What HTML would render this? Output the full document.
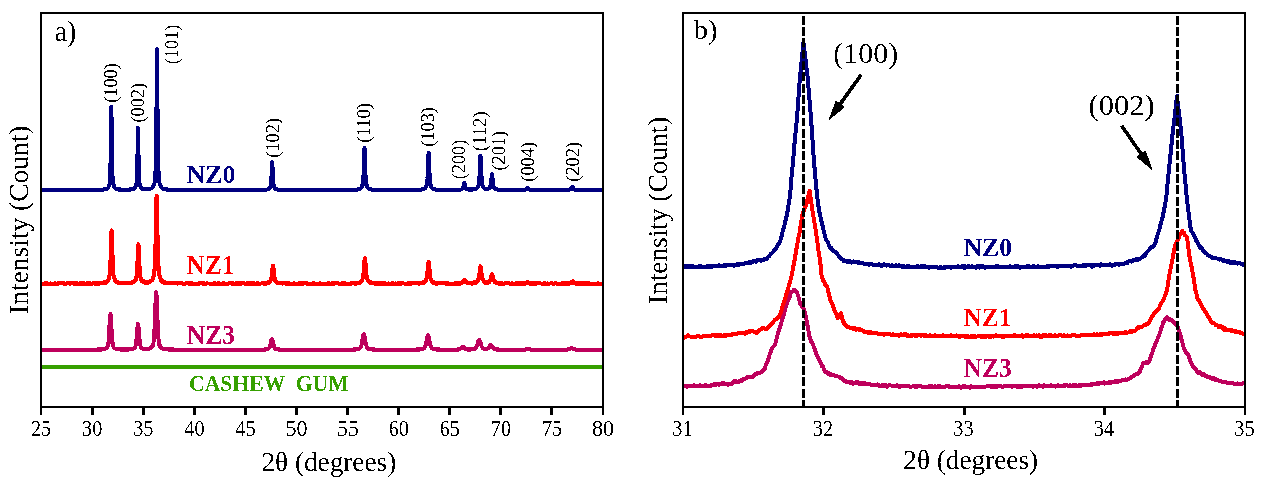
<!DOCTYPE html>
<html><head><meta charset="utf-8"><title>XRD</title>
<style>html,body{margin:0;padding:0;background:#fff;width:1262px;height:484px;overflow:hidden}svg{display:block}text{font-family:"Liberation Serif",serif}</style>
</head><body>
<svg width="1262" height="484" viewBox="0 0 1262 484">
<defs><filter id="crisp" filterUnits="userSpaceOnUse" x="0" y="0" width="1262" height="484" color-interpolation-filters="sRGB"><feComponentTransfer><feFuncA type="discrete" tableValues="0 1"/></feComponentTransfer></filter></defs>
<rect width="1262" height="484" fill="#fff"/>
<g filter="url(#crisp)">
<g clip-path="url(#cl)">
<polyline fill="none" stroke="#36A000" stroke-width="4" stroke-linejoin="round" stroke-linecap="butt" points="42.00,367.19 44.00,366.90 46.00,367.06 48.00,366.87 50.00,366.90 52.00,366.91 54.00,366.98 56.00,367.02 58.00,367.07 60.00,366.78 62.00,367.30 64.00,367.18 66.00,367.11 68.00,366.95 70.00,366.99 72.00,367.08 74.00,367.06 76.00,366.74 78.00,367.11 80.00,367.45 82.00,366.72 84.00,367.15 86.00,367.06 88.00,366.98 90.00,367.21 92.00,366.82 94.00,367.03 96.00,367.23 98.00,366.97 100.00,366.94 102.00,367.02 104.00,366.93 106.00,367.24 108.00,366.86 110.00,367.13 112.00,366.81 114.00,367.10 116.00,366.98 118.00,366.60 120.00,367.00 122.00,366.84 124.00,366.93 126.00,367.24 128.00,366.83 130.00,366.84 132.00,367.22 134.00,367.02 136.00,367.24 138.00,367.05 140.00,366.86 142.00,366.99 144.00,367.19 146.00,367.15 148.00,367.00 150.00,367.01 152.00,366.98 154.00,366.91 156.00,367.30 158.00,367.00 160.00,366.83 162.00,366.93 164.00,367.11 166.00,367.10 168.00,366.98 170.00,366.90 172.00,367.00 174.00,366.74 176.00,366.80 178.00,367.12 180.00,366.93 182.00,367.06 184.00,367.19 186.00,367.10 188.00,367.00 190.00,367.33 192.00,367.10 194.00,366.95 196.00,367.11 198.00,367.06 200.00,366.87 202.00,367.01 204.00,366.97 206.00,366.70 208.00,366.97 210.00,366.96 212.00,366.93 214.00,366.75 216.00,366.95 218.00,366.99 220.00,367.02 222.00,366.82 224.00,367.10 226.00,366.81 228.00,366.97 230.00,367.20 232.00,366.89 234.00,366.92 236.00,367.17 238.00,366.94 240.00,366.95 242.00,367.03 244.00,367.16 246.00,366.66 248.00,366.87 250.00,366.84 252.00,366.83 254.00,366.87 256.00,366.87 258.00,367.05 260.00,366.86 262.00,367.02 264.00,367.06 266.00,366.89 268.00,367.02 270.00,367.25 272.00,367.05 274.00,366.90 276.00,366.99 278.00,366.86 280.00,367.04 282.00,367.13 284.00,366.87 286.00,366.97 288.00,367.17 290.00,366.92 292.00,367.03 294.00,366.84 296.00,366.87 298.00,366.92 300.00,367.33 302.00,366.94 304.00,366.92 306.00,366.92 308.00,366.98 310.00,367.10 312.00,367.03 314.00,367.31 316.00,367.03 318.00,367.22 320.00,367.04 322.00,367.09 324.00,366.78 326.00,366.98 328.00,366.99 330.00,366.96 332.00,366.68 334.00,367.13 336.00,366.94 338.00,366.93 340.00,366.96 342.00,366.97 344.00,367.06 346.00,366.81 348.00,366.86 350.00,367.04 352.00,367.02 354.00,366.94 356.00,366.91 358.00,366.87 360.00,366.99 362.00,367.18 364.00,366.84 366.00,367.23 368.00,367.13 370.00,366.93 372.00,367.12 374.00,366.78 376.00,366.74 378.00,366.81 380.00,366.94 382.00,366.95 384.00,366.92 386.00,367.01 388.00,366.68 390.00,367.07 392.00,366.79 394.00,366.90 396.00,366.94 398.00,366.83 400.00,366.79 402.00,366.85 404.00,367.00 406.00,367.09 408.00,367.08 410.00,366.85 412.00,366.88 414.00,366.86 416.00,367.07 418.00,366.69 420.00,367.19 422.00,366.93 424.00,366.88 426.00,367.05 428.00,367.15 430.00,367.05 432.00,367.16 434.00,367.02 436.00,367.18 438.00,367.19 440.00,366.99 442.00,367.22 444.00,367.02 446.00,367.01 448.00,366.86 450.00,366.96 452.00,367.12 454.00,366.80 456.00,367.10 458.00,367.05 460.00,367.04 462.00,366.67 464.00,366.98 466.00,367.10 468.00,366.89 470.00,367.01 472.00,366.64 474.00,367.10 476.00,366.90 478.00,367.13 480.00,366.72 482.00,367.10 484.00,366.96 486.00,367.12 488.00,366.86 490.00,366.91 492.00,367.34 494.00,366.88 496.00,366.89 498.00,366.96 500.00,366.85 502.00,367.18 504.00,367.26 506.00,366.89 508.00,366.74 510.00,367.18 512.00,367.17 514.00,367.12 516.00,367.17 518.00,366.87 520.00,366.97 522.00,366.79 524.00,366.79 526.00,367.15 528.00,366.90 530.00,367.34 532.00,367.01 534.00,366.90 536.00,367.12 538.00,367.27 540.00,367.07 542.00,366.82 544.00,367.06 546.00,367.21 548.00,366.93 550.00,366.88 552.00,367.15 554.00,367.02 556.00,366.83 558.00,366.94 560.00,366.89 562.00,367.04 564.00,367.02 566.00,367.17 568.00,367.11 570.00,366.77 572.00,367.06 574.00,367.13 576.00,367.07 578.00,367.15 580.00,366.92 582.00,366.86 584.00,367.14 586.00,366.84 588.00,366.68 590.00,367.15 592.00,366.89 594.00,366.95 596.00,366.79 598.00,366.80 600.00,366.83 602.00,366.95"/>
<polyline fill="none" stroke="#BE005C" stroke-width="4" stroke-linejoin="round" stroke-linecap="butt" points="42.00,349.79 43.00,349.79 44.00,349.79 45.00,349.79 46.00,349.79 47.00,349.79 48.00,349.78 49.00,349.78 50.00,349.78 51.00,349.78 52.00,349.78 53.00,349.78 54.00,349.78 55.00,349.78 56.00,349.78 57.00,349.78 58.00,349.78 59.00,349.78 60.00,349.78 61.00,349.78 62.00,349.78 63.00,349.78 64.00,349.78 65.00,349.78 66.00,349.77 67.00,349.77 68.00,349.77 69.00,349.77 70.00,349.77 71.00,349.77 72.00,349.77 73.00,349.77 74.00,349.77 75.00,349.76 76.00,349.76 77.00,349.76 78.00,349.76 79.00,349.76 80.00,349.75 81.00,349.75 82.00,349.75 83.00,349.75 84.00,349.74 85.00,349.74 86.00,349.73 87.00,349.73 88.00,349.72 89.00,349.72 90.00,349.71 91.00,349.70 92.00,349.69 93.00,349.68 94.00,349.67 95.00,349.66 96.00,349.64 97.00,349.62 98.00,349.59 99.00,349.56 100.00,349.51 100.40,349.49 100.60,349.48 100.80,349.47 101.00,349.46 101.20,349.44 101.40,349.43 101.60,349.41 101.80,349.40 102.00,349.38 102.20,349.36 102.40,349.34 102.60,349.32 102.80,349.29 103.00,349.27 103.20,349.24 103.40,349.21 103.60,349.18 103.80,349.14 104.00,349.11 104.20,349.06 104.40,349.02 104.60,348.97 104.80,348.91 105.00,348.85 105.20,348.79 105.40,348.71 105.60,348.63 105.80,348.53 106.00,348.42 106.20,348.30 106.40,348.16 106.60,347.99 106.80,347.78 107.00,347.53 107.20,347.21 107.40,346.79 107.60,346.24 107.80,345.52 108.00,344.57 108.20,343.32 108.40,341.73 108.60,339.72 108.80,337.27 109.00,334.37 109.20,331.06 109.40,327.43 109.60,323.66 109.80,320.03 110.00,316.93 110.20,314.81 110.40,314.05 110.60,314.81 110.80,316.93 111.00,320.03 111.20,323.66 111.40,327.42 111.60,331.05 111.80,334.36 112.00,337.26 112.20,339.71 112.40,341.71 112.60,343.31 112.80,344.55 113.00,345.50 113.20,346.23 113.40,346.77 113.60,347.19 113.80,347.51 114.00,347.76 114.20,347.96 114.40,348.13 114.60,348.27 114.80,348.39 115.00,348.50 115.20,348.59 115.40,348.68 115.60,348.75 115.80,348.82 116.00,348.88 116.20,348.93 116.40,348.98 116.60,349.02 116.80,349.06 117.00,349.10 117.20,349.13 117.40,349.16 117.60,349.19 117.80,349.22 118.00,349.24 118.20,349.26 118.40,349.28 118.60,349.30 118.80,349.32 119.00,349.33 119.20,349.35 119.40,349.36 119.60,349.37 119.80,349.38 120.00,349.40 120.20,349.41 121.00,349.44 122.00,349.47 123.00,349.48 124.00,349.49 125.00,349.49 126.00,349.48 127.00,349.46 128.00,349.43 128.20,349.42 128.40,349.41 128.60,349.41 128.80,349.40 129.00,349.39 129.20,349.37 129.40,349.36 129.60,349.35 129.80,349.34 130.00,349.32 130.20,349.30 130.40,349.29 130.60,349.27 130.80,349.25 131.00,349.22 131.20,349.20 131.40,349.17 131.60,349.14 131.80,349.11 132.00,349.07 132.20,349.03 132.40,348.99 132.60,348.94 132.80,348.89 133.00,348.83 133.20,348.77 133.40,348.69 133.60,348.61 133.80,348.51 134.00,348.39 134.20,348.26 134.40,348.09 134.60,347.88 134.80,347.62 135.00,347.28 135.20,346.83 135.40,346.25 135.60,345.49 135.80,344.52 136.00,343.30 136.20,341.79 136.40,339.98 136.60,337.88 136.80,335.51 137.00,332.96 137.20,330.34 137.40,327.85 137.60,325.75 137.80,324.32 138.00,323.81 138.20,324.31 138.40,325.74 138.60,327.84 138.80,330.32 139.00,332.93 139.20,335.48 139.40,337.84 139.60,339.94 139.80,341.74 140.00,343.24 140.20,344.46 140.40,345.42 140.60,346.17 140.80,346.75 141.00,347.19 141.20,347.52 141.40,347.78 141.60,347.98 141.80,348.14 142.00,348.27 142.20,348.37 142.40,348.46 142.60,348.54 142.80,348.61 143.00,348.66 143.20,348.71 143.40,348.76 143.60,348.79 143.80,348.83 144.00,348.85 144.20,348.88 144.40,348.90 144.60,348.92 144.80,348.93 145.00,348.94 145.20,348.95 145.40,348.96 145.60,348.96 145.80,348.96 146.00,348.96 146.20,348.96 146.40,348.95 146.60,348.94 146.80,348.93 147.00,348.92 147.20,348.91 147.40,348.89 147.60,348.87 147.80,348.85 148.00,348.82 148.20,348.79 148.40,348.76 148.60,348.73 148.80,348.69 149.00,348.64 149.20,348.60 149.40,348.55 149.60,348.49 149.80,348.42 150.00,348.36 150.20,348.28 150.40,348.19 150.60,348.10 150.80,347.99 151.00,347.87 151.20,347.74 151.40,347.59 151.60,347.42 151.80,347.23 152.00,347.00 152.20,346.73 152.40,346.41 152.60,346.02 152.80,345.52 153.00,344.88 153.20,344.06 153.40,343.00 153.60,341.62 153.80,339.84 154.00,337.57 154.20,334.75 154.40,331.32 154.60,327.24 154.80,322.54 155.00,317.31 155.20,311.71 155.40,306.02 155.60,300.65 155.80,296.14 156.00,293.10 156.20,292.02 156.40,293.10 156.60,296.15 156.80,300.66 157.00,306.03 157.20,311.72 157.40,317.33 157.60,322.57 157.80,327.27 158.00,331.35 158.20,334.79 158.40,337.61 158.60,339.87 158.80,341.66 159.00,343.04 159.20,344.11 159.40,344.94 159.60,345.57 159.80,346.08 160.00,346.47 160.20,346.80 160.40,347.07 160.60,347.30 160.80,347.50 161.00,347.67 161.20,347.83 161.40,347.97 161.60,348.09 161.80,348.20 162.00,348.30 162.20,348.39 162.40,348.48 162.60,348.55 162.80,348.62 163.00,348.68 163.20,348.74 163.40,348.80 163.60,348.85 163.80,348.89 164.00,348.94 164.20,348.98 164.40,349.01 164.60,349.05 164.80,349.08 165.00,349.11 165.20,349.14 165.40,349.17 165.60,349.19 165.80,349.21 166.00,349.24 167.00,349.33 168.00,349.40 169.00,349.46 170.00,349.50 171.00,349.54 172.00,349.57 173.00,349.59 174.00,349.61 175.00,349.63 176.00,349.65 177.00,349.66 178.00,349.67 179.00,349.68 180.00,349.69 181.00,349.70 182.00,349.70 183.00,349.71 184.00,349.72 185.00,349.72 186.00,349.72 187.00,349.73 188.00,349.73 189.00,349.74 190.00,349.74 191.00,349.74 192.00,349.74 193.00,349.75 194.00,349.75 195.00,349.75 196.00,349.75 197.00,349.76 198.00,349.76 199.00,349.76 200.00,349.76 201.00,349.76 202.00,349.76 203.00,349.76 204.00,349.76 205.00,349.77 206.00,349.77 207.00,349.77 208.00,349.77 209.00,349.77 210.00,349.77 211.00,349.77 212.00,349.77 213.00,349.77 214.00,349.77 215.00,349.77 216.00,349.77 217.00,349.77 218.00,349.77 219.00,349.77 220.00,349.77 221.00,349.78 222.00,349.78 223.00,349.78 224.00,349.78 225.00,349.78 226.00,349.78 227.00,349.78 228.00,349.78 229.00,349.78 230.00,349.78 231.00,349.78 232.00,349.78 233.00,349.78 234.00,349.78 235.00,349.78 236.00,349.78 237.00,349.77 238.00,349.77 239.00,349.77 240.00,349.77 241.00,349.77 242.00,349.77 243.00,349.77 244.00,349.77 245.00,349.77 246.00,349.77 247.00,349.77 248.00,349.77 249.00,349.76 250.00,349.76 251.00,349.76 252.00,349.76 253.00,349.75 254.00,349.75 255.00,349.74 256.00,349.74 257.00,349.73 258.00,349.72 259.00,349.71 260.00,349.70 261.00,349.68 261.90,349.66 262.00,349.66 262.10,349.66 262.30,349.65 262.50,349.65 262.70,349.64 262.90,349.64 263.00,349.63 263.10,349.63 263.30,349.62 263.50,349.61 263.70,349.61 263.90,349.60 264.00,349.59 264.10,349.59 264.30,349.58 264.50,349.56 264.70,349.55 264.90,349.54 265.00,349.53 265.10,349.53 265.30,349.51 265.50,349.49 265.70,349.48 265.90,349.46 266.00,349.44 266.10,349.43 266.30,349.41 266.50,349.38 266.70,349.35 266.90,349.32 267.00,349.30 267.10,349.28 267.30,349.23 267.50,349.18 267.70,349.12 267.90,349.04 268.00,349.00 268.10,348.95 268.30,348.83 268.50,348.68 268.70,348.50 268.90,348.27 269.00,348.13 269.10,347.98 269.30,347.63 269.50,347.21 269.70,346.70 269.90,346.11 270.00,345.77 270.10,345.42 270.30,344.65 270.50,343.81 270.70,342.92 270.90,342.01 271.00,341.56 271.10,341.12 271.30,340.32 271.50,339.67 271.70,339.24 271.90,339.09 272.00,339.13 272.10,339.24 272.30,339.67 272.50,340.32 272.70,341.12 272.90,342.01 273.00,342.47 273.10,342.92 273.30,343.81 273.50,344.65 273.70,345.42 273.90,346.11 274.00,346.41 274.10,346.70 274.30,347.21 274.50,347.63 274.70,347.98 274.90,348.27 275.00,348.39 275.10,348.50 275.30,348.68 275.50,348.83 275.70,348.95 275.90,349.04 276.00,349.08 276.10,349.12 276.30,349.18 276.50,349.23 276.70,349.28 276.90,349.32 277.00,349.34 277.10,349.35 277.30,349.38 277.50,349.41 277.70,349.43 277.90,349.46 278.00,349.47 278.10,349.48 278.30,349.49 278.50,349.51 278.70,349.53 278.90,349.54 279.00,349.55 279.10,349.55 279.30,349.57 279.50,349.58 279.70,349.59 279.90,349.60 280.00,349.60 280.10,349.61 280.30,349.61 280.50,349.62 280.70,349.63 280.90,349.64 281.00,349.64 281.10,349.64 281.30,349.65 281.50,349.65 281.70,349.66 282.00,349.67 283.00,349.69 284.00,349.70 285.00,349.72 286.00,349.73 287.00,349.73 288.00,349.74 289.00,349.75 290.00,349.75 291.00,349.75 292.00,349.76 293.00,349.76 294.00,349.76 295.00,349.76 296.00,349.77 297.00,349.77 298.00,349.77 299.00,349.77 300.00,349.77 301.00,349.77 302.00,349.77 303.00,349.77 304.00,349.77 305.00,349.78 306.00,349.78 307.00,349.78 308.00,349.78 309.00,349.78 310.00,349.78 311.00,349.78 312.00,349.78 313.00,349.78 314.00,349.78 315.00,349.78 316.00,349.78 317.00,349.78 318.00,349.78 319.00,349.78 320.00,349.78 321.00,349.78 322.00,349.77 323.00,349.77 324.00,349.77 325.00,349.77 326.00,349.77 327.00,349.77 328.00,349.77 329.00,349.77 330.00,349.77 331.00,349.77 332.00,349.77 333.00,349.76 334.00,349.76 335.00,349.76 336.00,349.76 337.00,349.76 338.00,349.75 339.00,349.75 340.00,349.75 341.00,349.75 342.00,349.74 343.00,349.74 344.00,349.73 345.00,349.72 346.00,349.72 347.00,349.71 348.00,349.70 349.00,349.68 350.00,349.67 351.00,349.65 352.00,349.63 353.00,349.59 353.80,349.56 354.00,349.55 354.20,349.54 354.40,349.53 354.60,349.52 354.80,349.51 355.00,349.50 355.20,349.49 355.40,349.47 355.60,349.46 355.80,349.44 356.00,349.42 356.20,349.41 356.40,349.39 356.60,349.36 356.80,349.34 357.00,349.32 357.20,349.29 357.40,349.26 357.60,349.23 357.80,349.19 358.00,349.15 358.20,349.10 358.40,349.05 358.60,349.00 358.80,348.93 359.00,348.86 359.20,348.77 359.40,348.66 359.60,348.53 359.80,348.38 360.00,348.18 360.20,347.95 360.40,347.66 360.60,347.31 360.80,346.89 361.00,346.38 361.20,345.78 361.40,345.07 361.60,344.27 361.80,343.35 362.00,342.34 362.20,341.23 362.40,340.06 362.60,338.85 362.80,337.64 363.00,336.50 363.20,335.49 363.40,334.69 363.60,334.17 363.80,333.99 364.00,334.17 364.20,334.69 364.40,335.49 364.60,336.50 364.80,337.64 365.00,338.85 365.20,340.06 365.40,341.23 365.60,342.34 365.80,343.35 366.00,344.26 366.20,345.07 366.40,345.78 366.60,346.38 366.80,346.89 367.00,347.31 367.20,347.66 367.40,347.95 367.60,348.18 367.80,348.37 368.00,348.53 368.20,348.66 368.40,348.77 368.60,348.86 368.80,348.93 369.00,349.00 369.20,349.05 369.40,349.10 369.60,349.15 369.80,349.19 370.00,349.22 370.20,349.26 370.40,349.29 370.60,349.31 370.80,349.34 371.00,349.36 371.20,349.38 371.40,349.40 371.60,349.42 371.80,349.44 372.00,349.45 372.20,349.47 372.40,349.48 372.60,349.50 372.80,349.51 373.00,349.52 373.20,349.53 373.40,349.54 373.60,349.55 374.00,349.57 375.00,349.60 376.00,349.63 377.00,349.65 378.00,349.67 379.00,349.68 380.00,349.70 381.00,349.70 382.00,349.71 383.00,349.72 384.00,349.72 385.00,349.73 386.00,349.73 387.00,349.74 388.00,349.74 389.00,349.74 390.00,349.74 391.00,349.74 392.00,349.75 393.00,349.75 394.00,349.75 395.00,349.75 396.00,349.75 397.00,349.75 398.00,349.75 399.00,349.74 400.00,349.74 401.00,349.74 402.00,349.74 403.00,349.74 404.00,349.74 405.00,349.73 406.00,349.73 407.00,349.72 408.00,349.72 409.00,349.71 410.00,349.71 411.00,349.70 412.00,349.69 413.00,349.67 414.00,349.66 415.00,349.64 416.00,349.62 417.00,349.58 418.00,349.54 418.20,349.54 418.40,349.53 418.60,349.51 418.80,349.50 419.00,349.49 419.20,349.48 419.40,349.46 419.60,349.45 419.80,349.43 420.00,349.42 420.20,349.40 420.40,349.38 420.60,349.36 420.80,349.34 421.00,349.31 421.20,349.29 421.40,349.26 421.60,349.23 421.80,349.19 422.00,349.16 422.20,349.11 422.40,349.07 422.60,349.01 422.80,348.95 423.00,348.88 423.20,348.79 423.40,348.69 423.60,348.57 423.80,348.42 424.00,348.25 424.20,348.04 424.40,347.78 424.60,347.47 424.80,347.10 425.00,346.67 425.20,346.15 425.40,345.56 425.60,344.89 425.80,344.12 426.00,343.28 426.20,342.36 426.40,341.38 426.60,340.35 426.80,339.31 427.00,338.29 427.20,337.33 427.40,336.50 427.60,335.84 427.80,335.42 428.00,335.28 428.20,335.42 428.40,335.84 428.60,336.50 428.80,337.33 429.00,338.29 429.20,339.31 429.40,340.35 429.60,341.38 429.80,342.36 430.00,343.28 430.20,344.12 430.40,344.88 430.60,345.56 430.80,346.15 431.00,346.66 431.20,347.10 431.40,347.47 431.60,347.78 431.80,348.03 432.00,348.25 432.20,348.42 432.40,348.57 432.60,348.69 432.80,348.79 433.00,348.87 433.20,348.94 433.40,349.01 433.60,349.06 433.80,349.11 434.00,349.15 434.20,349.19 434.40,349.22 434.60,349.25 434.80,349.28 435.00,349.31 435.20,349.33 435.40,349.35 435.60,349.37 435.80,349.39 436.00,349.41 436.20,349.43 436.40,349.44 436.60,349.46 436.80,349.47 437.00,349.48 437.20,349.50 437.40,349.51 437.60,349.52 437.80,349.53 438.00,349.54 439.00,349.57 440.00,349.60 441.00,349.63 442.00,349.64 443.00,349.66 444.00,349.67 445.00,349.68 446.00,349.68 447.00,349.69 448.00,349.69 449.00,349.69 450.00,349.69 451.00,349.69 452.00,349.68 452.90,349.68 453.00,349.68 453.10,349.67 453.30,349.67 453.50,349.67 453.70,349.67 453.90,349.67 454.00,349.66 454.10,349.66 454.30,349.66 454.50,349.66 454.70,349.65 454.90,349.65 455.00,349.65 455.10,349.65 455.30,349.64 455.50,349.64 455.70,349.64 455.90,349.63 456.00,349.63 456.10,349.62 456.30,349.62 456.50,349.61 456.70,349.61 456.90,349.60 457.00,349.59 457.10,349.59 457.30,349.58 457.50,349.57 457.70,349.55 457.90,349.54 458.00,349.53 458.10,349.52 458.30,349.50 458.50,349.47 458.70,349.44 458.90,349.41 459.00,349.38 459.10,349.36 459.30,349.31 459.50,349.25 459.70,349.17 459.90,349.09 460.00,349.04 460.10,348.99 460.30,348.87 460.50,348.74 460.70,348.60 460.90,348.44 461.00,348.36 461.10,348.27 461.30,348.09 461.50,347.90 461.70,347.72 461.90,347.53 462.00,347.44 462.10,347.36 462.30,347.21 462.50,347.10 462.70,347.02 462.90,347.00 463.00,347.00 463.10,347.02 463.30,347.09 463.50,347.20 463.70,347.35 463.90,347.52 464.00,347.60 464.10,347.70 464.30,347.88 464.50,348.06 464.70,348.24 464.90,348.41 465.00,348.49 465.10,348.56 465.30,348.70 465.50,348.83 465.70,348.94 465.90,349.04 466.00,349.08 466.10,349.12 466.30,349.19 466.50,349.25 466.70,349.29 466.90,349.33 467.00,349.35 467.10,349.37 467.30,349.39 467.50,349.41 467.70,349.43 467.90,349.44 468.00,349.45 468.10,349.45 468.30,349.46 468.50,349.46 468.70,349.47 468.90,349.47 469.00,349.47 469.10,349.47 469.20,349.47 469.30,349.47 469.40,349.47 469.50,349.47 469.60,349.47 469.70,349.47 469.80,349.47 469.90,349.46 470.00,349.46 470.10,349.46 470.20,349.46 470.30,349.46 470.40,349.45 470.50,349.45 470.60,349.45 470.70,349.44 470.80,349.44 470.90,349.43 471.00,349.43 471.10,349.43 471.20,349.42 471.30,349.42 471.40,349.41 471.50,349.40 471.60,349.40 471.70,349.39 471.80,349.38 471.90,349.38 472.00,349.37 472.10,349.36 472.20,349.35 472.30,349.35 472.40,349.34 472.50,349.33 472.60,349.32 472.70,349.31 472.80,349.29 473.00,349.27 473.20,349.24 473.40,349.21 473.60,349.17 473.80,349.13 474.00,349.08 474.20,349.03 474.40,348.96 474.60,348.88 474.80,348.78 475.00,348.67 475.20,348.53 475.40,348.37 475.60,348.17 475.80,347.94 476.00,347.66 476.20,347.34 476.40,346.97 476.60,346.55 476.80,346.08 477.00,345.55 477.20,344.98 477.40,344.36 477.60,343.71 477.80,343.03 478.00,342.36 478.20,341.70 478.40,341.09 478.60,340.57 478.80,340.16 479.00,339.90 479.20,339.81 479.40,339.89 479.60,340.15 479.80,340.56 480.00,341.08 480.20,341.68 480.40,342.34 480.60,343.01 480.80,343.68 481.00,344.33 481.20,344.94 481.40,345.51 481.60,346.04 481.80,346.51 482.00,346.92 482.20,347.29 482.40,347.60 482.60,347.87 482.80,348.10 483.00,348.29 483.20,348.45 483.40,348.58 483.60,348.69 483.80,348.78 484.00,348.85 484.20,348.91 484.40,348.96 484.60,348.99 484.80,349.02 485.00,349.05 485.20,349.06 485.40,349.08 485.60,349.08 485.80,349.08 486.00,349.07 486.20,349.06 486.40,349.04 486.60,349.01 486.80,348.97 487.00,348.91 487.20,348.85 487.40,348.76 487.60,348.66 487.80,348.54 488.00,348.40 488.20,348.23 488.40,348.04 488.60,347.82 488.80,347.58 489.00,347.32 489.20,347.03 489.40,346.73 489.60,346.42 489.80,346.11 490.00,345.81 490.20,345.53 490.40,345.29 490.60,345.11 490.80,344.99 491.00,344.95 491.20,345.00 491.40,345.12 491.60,345.32 491.80,345.57 492.00,345.85 492.20,346.16 492.40,346.48 492.60,346.80 492.80,347.11 493.00,347.41 493.20,347.68 493.40,347.93 493.60,348.16 493.80,348.37 494.00,348.55 494.20,348.70 494.40,348.84 494.60,348.95 494.80,349.05 495.00,349.13 495.20,349.20 495.40,349.26 495.60,349.31 495.80,349.35 496.00,349.39 496.20,349.42 496.40,349.44 496.60,349.46 496.80,349.48 497.00,349.50 497.20,349.52 497.40,349.53 497.60,349.54 497.80,349.55 498.00,349.56 498.20,349.57 498.40,349.58 498.60,349.59 498.80,349.60 499.00,349.61 499.20,349.62 499.40,349.62 499.60,349.63 499.80,349.63 500.00,349.64 500.20,349.64 500.40,349.65 500.60,349.65 500.80,349.66 501.00,349.66 502.00,349.68 503.00,349.69 504.00,349.71 505.00,349.72 506.00,349.72 507.00,349.73 508.00,349.73 509.00,349.74 510.00,349.74 511.00,349.75 512.00,349.75 513.00,349.75 514.00,349.75 515.00,349.75 516.00,349.75 517.00,349.75 517.90,349.75 518.00,349.75 518.10,349.75 518.30,349.75 518.50,349.75 518.70,349.75 518.90,349.75 519.00,349.75 519.10,349.75 519.30,349.75 519.50,349.75 519.70,349.75 519.90,349.75 520.00,349.75 520.10,349.75 520.30,349.75 520.50,349.75 520.70,349.75 520.90,349.74 521.00,349.74 521.10,349.74 521.30,349.74 521.50,349.74 521.70,349.74 521.90,349.74 522.00,349.74 522.10,349.73 522.30,349.73 522.50,349.73 522.70,349.72 522.90,349.72 523.00,349.72 523.10,349.71 523.30,349.71 523.50,349.70 523.70,349.69 523.90,349.68 524.00,349.67 524.10,349.67 524.30,349.65 524.50,349.64 524.70,349.61 524.90,349.59 525.00,349.58 525.10,349.56 525.30,349.53 525.50,349.50 525.70,349.46 525.90,349.42 526.00,349.40 526.10,349.38 526.30,349.34 526.50,349.29 526.70,349.24 526.90,349.20 527.00,349.18 527.10,349.16 527.30,349.13 527.50,349.10 527.70,349.08 527.90,349.08 528.00,349.08 528.10,349.08 528.30,349.10 528.50,349.13 528.70,349.16 528.90,349.20 529.00,349.22 529.10,349.25 529.30,349.29 529.50,349.34 529.70,349.38 529.90,349.43 530.00,349.45 530.10,349.47 530.30,349.50 530.50,349.54 530.70,349.57 530.90,349.60 531.00,349.61 531.10,349.62 531.30,349.64 531.50,349.66 531.70,349.67 531.90,349.69 532.00,349.69 532.10,349.70 532.30,349.71 532.50,349.71 532.70,349.72 532.90,349.73 533.00,349.73 533.10,349.73 533.30,349.74 533.50,349.74 533.70,349.74 533.90,349.75 534.00,349.75 534.10,349.75 534.30,349.75 534.50,349.75 534.70,349.75 534.90,349.75 535.00,349.76 535.10,349.76 535.30,349.76 535.50,349.76 535.70,349.76 535.90,349.76 536.00,349.76 536.10,349.76 536.30,349.76 536.50,349.76 536.70,349.77 536.90,349.77 537.00,349.77 537.10,349.77 537.30,349.77 537.50,349.77 537.70,349.77 538.00,349.77 539.00,349.77 540.00,349.77 541.00,349.78 542.00,349.78 543.00,349.78 544.00,349.78 545.00,349.78 546.00,349.78 547.00,349.78 548.00,349.78 549.00,349.78 550.00,349.78 551.00,349.78 552.00,349.78 553.00,349.78 554.00,349.78 555.00,349.78 556.00,349.77 557.00,349.77 558.00,349.77 559.00,349.77 560.00,349.76 561.00,349.76 561.70,349.76 561.90,349.75 562.00,349.75 562.10,349.75 562.30,349.75 562.50,349.75 562.70,349.75 562.90,349.75 563.00,349.74 563.10,349.74 563.30,349.74 563.50,349.74 563.70,349.74 563.90,349.73 564.00,349.73 564.10,349.73 564.30,349.73 564.50,349.72 564.70,349.72 564.90,349.72 565.00,349.71 565.10,349.71 565.30,349.71 565.50,349.70 565.70,349.70 565.90,349.69 566.00,349.69 566.10,349.68 566.30,349.67 566.50,349.66 566.70,349.65 566.90,349.63 567.00,349.62 567.10,349.61 567.30,349.59 567.50,349.57 567.70,349.54 567.90,349.51 568.00,349.49 568.10,349.47 568.30,349.42 568.50,349.37 568.70,349.31 568.90,349.24 569.00,349.20 569.10,349.16 569.30,349.08 569.50,348.99 569.70,348.89 569.90,348.79 570.00,348.74 570.10,348.69 570.30,348.58 570.50,348.47 570.70,348.37 570.90,348.28 571.00,348.24 571.10,348.20 571.30,348.14 571.50,348.11 571.70,348.09 571.90,348.11 572.00,348.12 572.10,348.14 572.30,348.20 572.50,348.28 572.70,348.37 572.90,348.47 573.00,348.53 573.10,348.58 573.30,348.69 573.50,348.79 573.70,348.89 573.90,348.99 574.00,349.04 574.10,349.08 574.30,349.16 574.50,349.24 574.70,349.31 574.90,349.37 575.00,349.39 575.10,349.42 575.30,349.47 575.50,349.51 575.70,349.54 575.90,349.57 576.00,349.58 576.10,349.59 576.30,349.62 576.50,349.63 576.70,349.65 576.90,349.66 577.00,349.67 577.10,349.67 577.30,349.68 577.50,349.69 577.70,349.70 577.90,349.70 578.00,349.71 578.10,349.71 578.30,349.71 578.50,349.72 578.70,349.72 578.90,349.73 579.00,349.73 579.10,349.73 579.30,349.73 579.50,349.74 579.70,349.74 579.90,349.74 580.00,349.74 580.10,349.74 580.30,349.75 580.50,349.75 580.70,349.75 580.90,349.75 581.00,349.75 581.10,349.75 581.30,349.76 581.50,349.76 582.00,349.76 583.00,349.77 584.00,349.77 585.00,349.77 586.00,349.78 587.00,349.78 588.00,349.78 589.00,349.78 590.00,349.78 591.00,349.79 592.00,349.79 593.00,349.79 594.00,349.79 595.00,349.79 596.00,349.79 597.00,349.79 598.00,349.79 599.00,349.79 600.00,349.79 601.00,349.79 602.00,349.79"/>
<polyline fill="none" stroke="#FF0000" stroke-width="4" stroke-linejoin="round" stroke-linecap="butt" points="42.00,283.58 43.00,283.66 44.00,283.51 45.00,283.36 46.00,283.47 47.00,283.33 48.00,283.59 49.00,283.91 50.00,283.45 51.00,283.42 52.00,283.70 53.00,283.66 54.00,283.60 55.00,283.34 56.00,283.57 57.00,283.75 58.00,283.24 59.00,283.46 60.00,283.09 61.00,283.25 62.00,283.11 63.00,283.51 64.00,283.25 65.00,283.63 66.00,283.60 67.00,283.52 68.00,282.93 69.00,283.43 70.00,283.55 71.00,283.58 72.00,283.17 73.00,283.43 74.00,283.31 75.00,283.35 76.00,283.81 77.00,283.34 78.00,283.53 79.00,283.76 80.00,283.39 81.00,283.50 82.00,283.56 83.00,283.54 84.00,283.21 85.00,283.53 86.00,283.85 87.00,283.12 88.00,283.71 89.00,283.52 90.00,283.32 91.00,283.97 92.00,283.65 93.00,283.15 94.00,283.45 95.00,283.56 96.00,283.34 97.00,283.54 98.00,283.32 99.00,283.46 100.00,283.61 101.00,283.02 101.60,283.19 101.80,283.01 102.00,283.14 102.20,282.79 102.40,282.92 102.60,283.00 102.80,283.25 103.00,283.28 103.20,282.64 103.40,282.74 103.60,283.07 103.80,282.38 104.00,282.73 104.20,282.78 104.40,283.08 104.60,282.89 104.80,282.59 105.00,282.53 105.20,282.50 105.40,282.88 105.60,282.32 105.80,282.27 106.00,282.35 106.20,282.14 106.40,282.02 106.60,281.67 106.80,281.82 107.00,281.56 107.20,281.80 107.40,281.48 107.60,281.10 107.80,281.02 108.00,280.48 108.20,280.50 108.40,279.84 108.60,279.52 108.80,278.49 109.00,278.21 109.20,276.84 109.40,275.67 109.60,274.70 109.80,272.71 110.00,270.57 110.20,267.95 110.40,263.12 110.60,258.05 110.80,252.04 111.00,245.03 111.20,237.74 111.40,232.14 111.60,230.19 111.80,232.32 112.00,237.52 112.20,244.89 112.40,251.99 112.60,257.93 112.80,263.38 113.00,267.16 113.20,270.76 113.40,272.97 113.60,274.77 113.80,276.01 114.00,277.21 114.20,277.60 114.40,278.50 114.60,279.43 114.80,279.28 115.00,280.41 115.20,280.09 115.40,281.00 115.60,280.85 115.80,281.47 116.00,281.49 116.20,281.24 116.40,282.08 116.60,282.26 116.80,282.00 117.00,282.05 117.20,282.17 117.40,282.04 117.60,282.64 117.80,282.29 118.00,282.48 118.20,282.35 118.40,282.44 118.60,282.32 118.80,283.00 119.00,282.68 119.20,283.00 119.40,282.79 119.60,282.65 119.80,282.77 120.00,282.73 120.20,282.90 120.40,282.82 120.60,282.86 120.80,282.61 121.00,282.77 121.20,283.40 121.40,282.84 122.00,282.78 123.00,283.17 124.00,283.46 125.00,282.76 126.00,283.06 127.00,282.94 128.00,282.62 128.40,283.23 128.60,283.03 128.80,283.04 129.00,282.82 129.20,283.11 129.40,282.84 129.60,282.93 129.80,282.67 130.00,282.62 130.20,283.24 130.40,282.76 130.60,282.93 130.80,282.82 131.00,282.69 131.20,282.65 131.40,282.90 131.60,282.63 131.80,282.62 132.00,282.62 132.20,282.86 132.40,282.68 132.60,282.55 132.80,282.25 133.00,281.97 133.20,282.47 133.40,282.39 133.60,282.01 133.80,282.07 134.00,282.00 134.20,281.86 134.40,281.72 134.60,281.18 134.80,281.45 135.00,280.50 135.20,280.73 135.40,280.27 135.60,279.93 135.80,279.65 136.00,278.89 136.20,277.39 136.40,276.17 136.60,275.39 136.80,273.10 137.00,270.98 137.20,268.17 137.40,263.78 137.60,259.14 137.80,254.65 138.00,249.55 138.20,245.56 138.40,244.13 138.60,245.40 138.80,249.15 139.00,254.52 139.20,259.39 139.40,263.74 139.60,268.04 139.80,270.91 140.00,273.39 140.20,274.86 140.40,276.34 140.60,277.33 140.80,278.19 141.00,279.12 141.20,279.40 141.40,280.11 141.60,280.46 141.80,281.17 142.00,280.57 142.20,281.35 142.40,281.28 142.60,281.46 142.80,281.24 143.00,281.60 143.20,282.00 143.40,281.88 143.60,282.00 143.80,281.98 144.00,282.40 144.20,282.15 144.40,281.65 144.60,282.06 144.80,281.78 145.00,281.48 145.20,282.19 145.40,282.67 145.60,282.36 145.80,282.07 146.00,282.13 146.20,282.65 146.40,282.40 146.60,282.37 146.80,282.34 147.00,282.35 147.20,282.53 147.40,282.45 147.60,282.34 147.80,282.00 148.00,282.36 148.20,282.03 148.40,282.44 148.60,281.80 148.80,282.04 149.00,282.02 149.20,281.63 149.40,282.33 149.60,282.20 149.80,281.64 150.00,281.86 150.20,281.67 150.40,280.81 150.60,281.41 150.80,281.20 151.00,281.10 151.20,280.64 151.40,280.67 151.60,280.49 151.80,280.60 152.00,280.13 152.20,279.75 152.40,279.81 152.60,278.91 152.80,278.51 153.00,277.65 153.20,277.90 153.40,277.05 153.60,276.21 153.80,275.14 154.00,273.77 154.20,272.27 154.40,270.20 154.60,267.72 154.80,264.55 155.00,260.73 155.20,255.10 155.40,248.10 155.60,239.51 155.80,229.42 156.00,218.76 156.20,207.45 156.40,198.85 156.60,195.49 156.80,198.56 157.00,207.32 157.20,218.59 157.40,229.50 157.60,239.62 157.80,248.09 158.00,255.02 158.20,259.99 158.40,264.52 158.60,267.60 158.80,270.54 159.00,272.08 159.20,273.95 159.40,275.42 159.60,275.97 159.80,276.74 160.00,277.64 160.20,278.19 160.40,278.45 160.60,279.26 160.80,280.03 161.00,279.80 161.20,280.12 161.40,280.17 161.60,280.74 161.80,280.56 162.00,280.78 162.20,281.55 162.40,281.15 162.60,281.79 162.80,282.03 163.00,281.82 163.20,282.00 163.40,282.45 163.60,282.00 163.80,281.98 164.00,281.86 164.20,282.28 164.40,282.70 164.60,282.63 164.80,282.21 165.00,282.29 165.20,282.42 165.40,282.66 165.60,282.58 165.80,282.73 166.00,282.78 166.20,282.67 166.40,282.77 167.00,282.92 168.00,282.96 169.00,283.20 170.00,283.61 171.00,283.35 172.00,283.26 173.00,282.86 174.00,283.41 175.00,282.86 176.00,283.01 177.00,283.60 178.00,283.58 179.00,283.38 180.00,283.01 181.00,283.35 182.00,283.29 183.00,283.62 184.00,284.04 185.00,283.54 186.00,283.29 187.00,283.20 188.00,283.49 189.00,283.46 190.00,283.22 191.00,283.54 192.00,283.23 193.00,283.80 194.00,283.79 195.00,283.80 196.00,283.41 197.00,283.66 198.00,283.50 199.00,283.44 200.00,283.46 201.00,283.22 202.00,283.18 203.00,283.75 204.00,283.50 205.00,283.60 206.00,283.80 207.00,283.12 208.00,283.36 209.00,283.60 210.00,283.65 211.00,283.46 212.00,283.82 213.00,283.61 214.00,283.26 215.00,283.33 216.00,283.76 217.00,283.68 218.00,283.09 219.00,283.90 220.00,283.71 221.00,283.90 222.00,283.47 223.00,283.49 224.00,283.28 225.00,284.20 226.00,283.52 227.00,283.96 228.00,283.40 229.00,283.61 230.00,283.15 231.00,283.47 232.00,283.81 233.00,283.25 234.00,283.83 235.00,283.65 236.00,283.30 237.00,283.44 238.00,283.45 239.00,283.55 240.00,283.43 241.00,283.35 242.00,283.48 243.00,283.30 244.00,283.24 245.00,283.54 246.00,283.78 247.00,283.17 248.00,283.55 249.00,283.39 250.00,283.30 251.00,283.76 252.00,283.41 253.00,283.91 254.00,283.34 255.00,283.62 256.00,283.46 257.00,283.32 258.00,283.65 259.00,283.45 260.00,283.62 261.00,283.44 262.00,283.15 263.00,283.37 263.20,283.40 263.40,283.62 263.60,283.14 263.80,283.35 264.00,282.92 264.20,283.50 264.40,283.06 264.60,282.86 264.80,283.29 265.00,283.57 265.20,282.89 265.40,282.99 265.60,283.05 265.80,282.94 266.00,283.30 266.20,282.98 266.40,282.97 266.60,283.27 266.80,282.91 267.00,283.17 267.20,282.79 267.40,282.69 267.60,282.49 267.80,283.37 268.00,282.77 268.20,282.85 268.40,282.72 268.60,282.69 268.80,282.57 269.00,282.94 269.20,282.09 269.40,281.83 269.60,281.82 269.80,281.56 270.00,281.87 270.20,281.63 270.40,280.87 270.60,280.37 270.80,280.14 271.00,279.96 271.20,278.13 271.40,277.99 271.60,276.38 271.80,275.43 272.00,273.16 272.20,271.37 272.40,268.97 272.60,267.13 272.80,266.27 273.00,265.59 273.20,265.82 273.40,267.16 273.60,268.87 273.80,271.35 274.00,273.42 274.20,275.15 274.40,276.62 274.60,277.57 274.80,278.81 275.00,279.60 275.20,280.55 275.40,281.18 275.60,281.08 275.80,281.23 276.00,281.67 276.20,281.74 276.40,281.89 276.60,282.21 276.80,282.09 277.00,282.62 277.20,282.54 277.40,282.71 277.60,282.68 277.80,282.61 278.00,282.61 278.20,282.84 278.40,282.81 278.60,283.05 278.80,283.03 279.00,282.73 279.20,283.12 279.40,282.79 279.60,283.00 279.80,283.10 280.00,282.68 280.20,283.24 280.40,283.28 280.60,283.22 280.80,283.17 281.00,283.20 281.20,283.06 281.40,283.25 281.60,283.19 281.80,283.36 282.00,283.05 282.20,283.42 282.40,283.41 282.60,283.34 282.80,283.28 283.00,283.53 284.00,283.01 285.00,283.57 286.00,283.53 287.00,283.56 288.00,283.60 289.00,283.35 290.00,283.45 291.00,283.68 292.00,283.64 293.00,283.59 294.00,283.16 295.00,283.68 296.00,283.84 297.00,283.80 298.00,283.61 299.00,283.17 300.00,283.79 301.00,283.52 302.00,282.93 303.00,283.66 304.00,283.19 305.00,283.24 306.00,283.41 307.00,283.88 308.00,283.47 309.00,283.63 310.00,284.00 311.00,283.97 312.00,283.54 313.00,283.51 314.00,283.25 315.00,283.39 316.00,283.67 317.00,283.67 318.00,283.59 319.00,283.82 320.00,283.37 321.00,283.55 322.00,283.75 323.00,283.71 324.00,283.83 325.00,283.66 326.00,283.49 327.00,283.65 328.00,283.31 329.00,283.15 330.00,283.70 331.00,283.54 332.00,283.63 333.00,283.13 334.00,283.46 335.00,283.40 336.00,283.33 337.00,282.98 338.00,283.46 339.00,283.76 340.00,283.63 341.00,283.38 342.00,283.52 343.00,283.71 344.00,282.82 345.00,283.47 346.00,283.63 347.00,283.66 348.00,283.90 349.00,283.74 350.00,283.52 351.00,283.50 352.00,283.59 353.00,283.23 354.00,283.31 354.90,283.50 355.00,283.76 355.10,283.22 355.30,283.23 355.50,283.28 355.70,283.55 355.90,283.19 356.00,283.56 356.10,282.94 356.30,283.12 356.50,283.10 356.70,283.32 356.90,283.36 357.00,282.71 357.10,282.85 357.30,283.13 357.50,282.86 357.70,282.61 357.90,283.22 358.00,283.06 358.10,283.04 358.30,282.76 358.50,283.09 358.70,282.73 358.90,283.01 359.00,282.48 359.10,282.47 359.30,282.67 359.50,282.37 359.70,282.64 359.90,282.45 360.00,282.11 360.10,282.31 360.30,282.09 360.50,282.29 360.70,281.77 360.90,281.66 361.00,281.98 361.10,282.15 361.30,281.88 361.50,281.15 361.70,280.90 361.90,280.88 362.00,280.27 362.10,279.84 362.30,279.60 362.50,279.06 362.70,277.96 362.90,276.80 363.00,276.29 363.10,276.19 363.30,274.38 363.50,272.79 363.70,270.80 363.90,268.51 364.00,266.98 364.10,265.85 364.30,262.81 364.50,260.49 364.70,258.57 364.90,258.47 365.00,258.34 365.10,258.64 365.30,260.49 365.50,262.97 365.70,265.90 365.90,267.96 366.00,269.33 366.10,270.65 366.30,273.45 366.50,274.81 366.70,275.99 366.90,277.38 367.00,278.23 367.10,278.11 367.30,278.85 367.50,279.87 367.70,280.20 367.90,280.67 368.00,280.55 368.10,281.32 368.30,281.56 368.50,281.52 368.70,281.76 368.90,281.26 369.00,282.01 369.10,281.87 369.30,282.17 369.50,282.35 369.70,282.20 369.90,281.96 370.00,282.52 370.10,282.28 370.30,282.46 370.50,282.47 370.70,282.59 370.90,282.16 371.00,283.07 371.10,282.85 371.30,283.11 371.50,283.37 371.70,282.92 371.90,282.50 372.00,282.75 372.10,282.69 372.30,282.89 372.50,283.07 372.70,282.57 372.90,283.18 373.00,282.73 373.10,283.19 373.30,283.11 373.50,283.08 373.70,283.16 373.90,283.06 374.00,283.05 374.10,282.79 374.30,283.22 374.50,283.70 374.70,283.75 375.00,283.60 376.00,283.50 377.00,283.20 378.00,283.76 379.00,283.41 380.00,283.42 381.00,283.38 382.00,283.49 383.00,283.37 384.00,283.47 385.00,283.23 386.00,283.41 387.00,284.08 388.00,283.50 389.00,283.46 390.00,283.65 391.00,283.70 392.00,283.25 393.00,283.48 394.00,283.76 395.00,283.60 396.00,283.56 397.00,283.92 398.00,283.36 399.00,283.55 400.00,283.40 401.00,283.90 402.00,283.04 403.00,283.35 404.00,283.39 405.00,283.68 406.00,283.66 407.00,283.86 408.00,283.11 409.00,283.68 410.00,283.41 411.00,283.31 412.00,283.60 413.00,283.22 414.00,282.92 415.00,283.32 416.00,283.01 417.00,283.19 418.00,283.41 418.60,283.36 418.80,283.67 419.00,283.21 419.20,282.86 419.40,283.04 419.60,282.98 419.80,282.89 420.00,283.29 420.20,283.00 420.40,282.65 420.60,283.30 420.80,283.07 421.00,283.16 421.20,283.07 421.40,283.18 421.60,283.00 421.80,283.26 422.00,283.02 422.20,282.97 422.40,282.94 422.60,282.42 422.80,282.69 423.00,282.61 423.20,282.66 423.40,282.20 423.60,282.87 423.80,282.40 424.00,281.97 424.20,281.73 424.40,281.96 424.60,281.86 424.80,281.54 425.00,281.55 425.20,281.14 425.40,281.17 425.60,280.53 425.80,280.31 426.00,280.10 426.20,279.92 426.40,278.32 426.60,277.60 426.80,276.46 427.00,275.60 427.20,273.62 427.40,272.04 427.60,270.18 427.80,267.81 428.00,265.67 428.20,263.89 428.40,262.14 428.60,261.81 428.80,262.56 429.00,264.04 429.20,265.87 429.40,267.61 429.60,270.07 429.80,272.36 430.00,274.05 430.20,275.38 430.40,276.44 430.60,277.87 430.80,278.43 431.00,278.98 431.20,279.65 431.40,280.68 431.60,280.76 431.80,281.32 432.00,281.18 432.20,281.76 432.40,281.56 432.60,281.84 432.80,282.65 433.00,282.35 433.20,282.14 433.40,282.34 433.60,282.54 433.80,282.84 434.00,282.48 434.20,282.23 434.40,282.66 434.60,282.78 434.80,282.85 435.00,283.20 435.20,282.99 435.40,283.15 435.60,282.71 435.80,283.23 436.00,283.56 436.20,283.26 436.40,283.15 436.60,283.15 436.80,283.58 437.00,282.92 437.20,283.15 437.40,283.31 437.60,283.39 437.80,283.11 438.00,283.31 438.20,283.18 438.40,283.29 439.00,283.26 440.00,283.05 441.00,283.36 442.00,283.61 443.00,283.17 444.00,283.37 445.00,283.61 446.00,283.18 447.00,283.50 448.00,283.20 449.00,283.75 450.00,284.05 451.00,283.97 452.00,283.41 453.00,283.65 454.00,283.48 454.40,283.48 454.60,283.84 454.80,283.12 455.00,283.71 455.20,283.43 455.40,283.79 455.60,283.48 455.80,283.26 456.00,283.50 456.20,283.61 456.40,283.43 456.60,283.54 456.80,283.28 457.00,282.87 457.20,283.63 457.40,283.57 457.60,283.43 457.80,283.40 458.00,283.64 458.20,283.25 458.40,283.18 458.60,283.30 458.80,283.64 459.00,282.98 459.20,283.61 459.40,283.14 459.60,283.01 459.80,283.58 460.00,283.22 460.20,282.90 460.40,283.11 460.60,283.40 460.80,283.43 461.00,282.99 461.20,283.15 461.40,283.17 461.60,282.76 461.80,282.93 462.00,282.73 462.20,282.48 462.40,282.35 462.60,282.31 462.80,282.09 463.00,281.69 463.20,281.44 463.40,281.51 463.60,280.94 463.80,280.77 464.00,280.54 464.20,280.18 464.40,280.52 464.60,279.82 464.80,280.44 465.00,280.45 465.20,281.33 465.40,281.63 465.60,281.03 465.80,281.56 466.00,282.21 466.20,282.45 466.40,282.61 466.60,282.54 466.80,282.79 467.00,282.94 467.20,282.83 467.40,283.17 467.60,282.40 467.80,283.16 468.00,282.78 468.20,283.30 468.40,283.03 468.60,282.88 468.80,283.22 469.00,282.91 469.20,282.92 469.40,282.76 469.60,283.15 469.80,283.29 470.00,283.42 470.20,283.13 470.40,283.43 470.50,283.17 470.60,283.14 470.70,283.31 470.80,283.42 470.90,283.07 471.00,283.09 471.10,283.11 471.20,283.17 471.30,282.92 471.40,283.40 471.50,283.04 471.60,283.25 471.70,282.92 471.80,283.21 471.90,283.22 472.00,283.01 472.10,283.61 472.20,283.19 472.30,283.54 472.40,283.33 472.50,282.91 472.60,282.97 472.70,283.17 472.80,283.07 472.90,283.06 473.00,282.96 473.10,282.57 473.20,282.96 473.30,282.45 473.40,283.08 473.50,282.79 473.60,282.78 473.70,282.89 473.80,283.00 473.90,282.56 474.00,282.47 474.10,282.62 474.20,282.36 474.30,282.61 474.50,283.21 474.70,282.50 474.90,282.88 475.00,282.35 475.10,282.74 475.30,282.52 475.50,282.52 475.70,282.60 475.90,282.82 476.00,282.38 476.10,282.31 476.30,281.93 476.50,282.20 476.70,281.85 476.90,281.95 477.00,281.64 477.10,281.98 477.30,280.82 477.50,280.97 477.70,280.94 477.90,280.23 478.00,279.89 478.10,279.77 478.30,278.90 478.50,278.57 478.70,278.29 478.90,276.95 479.00,275.82 479.10,275.26 479.30,274.00 479.50,272.82 479.70,270.73 479.90,269.15 480.00,268.80 480.10,268.12 480.30,266.82 480.50,266.28 480.70,266.52 480.90,267.72 481.00,268.00 481.10,269.49 481.30,270.76 481.50,272.66 481.70,274.53 481.90,275.72 482.00,275.76 482.10,276.83 482.20,277.43 482.30,277.44 482.40,277.83 482.50,278.45 482.60,278.44 482.70,279.54 482.80,278.88 482.90,279.48 483.00,279.94 483.10,280.17 483.20,280.48 483.30,280.69 483.40,280.73 483.50,281.22 483.60,280.54 483.70,281.20 483.80,281.14 483.90,281.46 484.00,281.57 484.10,281.38 484.20,281.53 484.30,281.96 484.40,281.92 484.50,281.72 484.60,282.46 484.70,282.58 484.80,281.69 484.90,282.17 485.00,282.77 485.10,282.37 485.20,282.27 485.30,282.19 485.40,282.14 485.50,282.25 485.60,282.19 485.70,282.54 485.80,282.27 485.90,282.28 486.00,282.11 486.10,282.41 486.20,282.21 486.30,282.40 486.40,282.71 486.50,282.55 486.60,282.59 486.70,282.56 486.80,282.49 486.90,282.44 487.00,282.39 487.10,282.66 487.20,282.19 487.30,282.79 487.40,282.45 487.50,282.25 487.60,282.30 487.70,282.24 487.80,282.43 487.90,282.19 488.00,282.63 488.10,282.12 488.20,281.72 488.30,282.07 488.40,281.71 488.50,282.16 488.60,282.39 488.70,282.24 488.80,281.68 488.90,281.76 489.00,282.33 489.10,281.88 489.20,281.72 489.30,281.88 489.40,282.13 489.50,281.72 489.60,281.30 489.70,281.20 489.80,281.11 489.90,280.62 490.00,280.31 490.10,280.37 490.20,279.88 490.30,279.84 490.40,279.60 490.60,279.52 490.80,277.99 491.00,277.35 491.20,276.47 491.40,275.76 491.60,275.16 491.80,274.25 492.00,273.98 492.20,273.98 492.40,274.69 492.60,275.82 492.80,276.57 493.00,277.19 493.20,278.19 493.40,279.04 493.60,279.81 493.80,280.10 494.00,280.65 494.20,280.65 494.40,281.15 494.60,282.11 494.80,281.38 495.00,282.03 495.20,282.32 495.40,282.30 495.60,282.30 495.80,282.58 496.00,282.68 496.20,282.73 496.40,282.35 496.60,282.83 496.80,282.71 497.00,282.83 497.20,283.06 497.40,283.20 497.60,283.29 497.80,282.98 498.00,283.36 498.20,283.44 498.40,283.46 498.60,283.54 498.80,283.18 499.00,283.19 499.20,283.45 499.40,282.92 499.60,283.33 499.80,283.16 500.00,283.21 500.20,282.88 500.40,283.10 500.60,283.33 500.80,283.57 501.00,283.60 501.20,283.34 501.40,283.32 501.60,283.17 501.80,283.48 502.00,283.33 503.00,283.57 504.00,283.88 505.00,283.45 506.00,283.10 507.00,283.27 508.00,283.13 509.00,283.20 510.00,283.84 511.00,283.57 512.00,283.14 513.00,283.69 514.00,283.84 515.00,283.44 516.00,283.36 517.00,283.45 517.30,283.60 517.50,283.69 517.70,283.83 517.90,283.83 518.00,283.83 518.10,283.87 518.30,283.69 518.50,283.15 518.70,283.50 518.90,283.61 519.00,283.43 519.10,283.75 519.30,283.44 519.50,283.29 519.70,283.88 519.90,283.69 520.00,283.58 520.10,283.75 520.30,283.78 520.50,283.60 520.70,282.90 520.90,283.34 521.00,283.40 521.10,283.26 521.30,283.56 521.50,283.80 521.70,283.38 521.90,283.21 522.00,284.00 522.10,283.38 522.30,283.18 522.50,283.54 522.70,283.58 522.90,283.29 523.00,283.66 523.10,283.34 523.30,283.22 523.50,283.49 523.70,283.62 523.90,283.26 524.00,283.49 524.10,283.38 524.30,284.09 524.50,283.18 524.70,283.67 524.90,283.28 525.00,283.24 525.10,283.43 525.30,283.42 525.50,283.45 525.70,283.14 525.90,282.83 526.00,282.79 526.10,283.01 526.30,282.92 526.50,283.01 526.70,282.66 526.90,282.72 527.00,282.80 527.10,282.43 527.30,282.00 527.50,282.10 527.70,282.10 527.90,282.95 528.00,282.40 528.10,282.97 528.30,282.92 528.50,283.31 528.70,283.23 528.90,283.04 529.00,283.05 529.10,283.16 529.30,283.24 529.50,283.12 529.70,283.29 529.90,283.73 530.00,282.92 530.10,283.43 530.30,283.16 530.50,283.45 530.70,283.63 530.90,283.43 531.00,283.64 531.10,283.06 531.30,283.74 531.50,283.32 531.70,283.64 531.90,283.53 532.00,282.85 532.10,283.31 532.30,283.56 532.50,283.89 532.70,283.58 532.90,283.58 533.00,283.16 533.10,283.88 533.30,283.97 533.50,283.53 533.70,283.47 533.90,283.13 534.00,283.75 534.10,284.21 534.30,283.72 534.50,283.85 534.70,283.68 534.90,283.30 535.00,283.88 535.10,283.24 535.30,283.49 535.50,283.62 535.70,283.77 535.90,283.65 536.00,283.65 536.10,283.36 536.30,283.23 536.50,283.57 536.70,283.38 536.90,283.23 537.00,283.24 537.10,283.43 538.00,283.10 539.00,283.23 540.00,283.16 541.00,283.61 542.00,283.67 543.00,284.07 544.00,283.20 545.00,283.40 546.00,283.80 547.00,283.52 548.00,283.49 549.00,284.00 550.00,283.49 551.00,283.29 552.00,283.25 553.00,283.66 554.00,283.65 555.00,283.23 556.00,283.33 557.00,283.70 558.00,283.71 559.00,283.41 560.00,283.72 561.00,283.70 562.00,283.11 562.50,283.47 562.70,283.65 562.90,283.40 563.00,283.01 563.10,283.48 563.30,283.73 563.50,283.94 563.70,282.99 563.90,284.19 564.00,283.26 564.10,283.78 564.30,283.84 564.50,283.78 564.70,283.57 564.90,283.23 565.00,283.68 565.10,283.34 565.30,282.89 565.50,284.22 565.70,283.69 565.90,283.96 566.00,283.27 566.10,283.87 566.30,283.89 566.50,283.88 566.70,283.48 566.90,283.17 567.00,283.43 567.10,282.92 567.30,283.03 567.50,283.47 567.70,283.19 567.90,283.38 568.00,283.39 568.10,283.89 568.30,283.72 568.50,283.37 568.70,283.66 568.90,283.14 569.00,283.23 569.10,283.53 569.30,282.96 569.50,283.16 569.70,282.85 569.90,283.15 570.00,283.50 570.10,282.87 570.30,283.03 570.50,282.65 570.70,282.47 570.90,282.31 571.00,282.91 571.10,283.06 571.30,282.41 571.50,281.92 571.70,282.08 571.90,281.63 572.00,281.82 572.10,281.62 572.30,281.50 572.50,281.54 572.70,281.29 572.90,281.44 573.00,281.19 573.10,281.60 573.30,281.55 573.50,282.07 573.70,282.05 573.90,282.49 574.00,282.66 574.10,282.27 574.30,282.56 574.50,282.64 574.70,283.16 574.90,283.48 575.00,283.31 575.10,283.04 575.30,283.55 575.50,282.85 575.70,283.65 575.90,283.14 576.00,282.62 576.10,284.00 576.30,283.75 576.50,283.12 576.70,283.44 576.90,283.36 577.00,283.45 577.10,283.06 577.30,283.27 577.50,283.57 577.70,283.52 577.90,283.77 578.00,283.49 578.10,284.06 578.30,283.31 578.50,283.56 578.70,283.02 578.90,283.19 579.00,283.84 579.10,283.27 579.30,283.65 579.50,283.50 579.70,283.26 579.90,283.44 580.00,283.40 580.10,283.41 580.30,283.72 580.50,283.70 580.70,283.39 580.90,283.31 581.00,283.61 581.10,283.52 581.30,283.80 581.50,284.21 581.70,283.76 581.90,283.54 582.00,283.51 582.10,283.34 582.30,283.33 583.00,283.31 584.00,283.46 585.00,283.46 586.00,283.76 587.00,283.47 588.00,283.53 589.00,283.27 590.00,283.99 591.00,283.71 592.00,284.03 593.00,283.78 594.00,283.96 595.00,283.52 596.00,283.77 597.00,284.26 598.00,283.28 599.00,283.88 600.00,284.01 601.00,283.69 602.00,283.78"/>
<polyline fill="none" stroke="#000080" stroke-width="4" stroke-linejoin="round" stroke-linecap="butt" points="42.00,189.99 43.00,189.99 44.00,189.99 45.00,189.99 46.00,189.99 47.00,189.99 48.00,189.99 49.00,189.99 50.00,189.99 51.00,189.99 52.00,189.98 53.00,189.98 54.00,189.98 55.00,189.98 56.00,189.98 57.00,189.98 58.00,189.98 59.00,189.98 60.00,189.98 61.00,189.98 62.00,189.98 63.00,189.98 64.00,189.98 65.00,189.98 66.00,189.98 67.00,189.98 68.00,189.98 69.00,189.97 70.00,189.97 71.00,189.97 72.00,189.97 73.00,189.97 74.00,189.97 75.00,189.97 76.00,189.97 77.00,189.96 78.00,189.96 79.00,189.96 80.00,189.96 81.00,189.96 82.00,189.95 83.00,189.95 84.00,189.95 85.00,189.95 86.00,189.94 87.00,189.94 88.00,189.93 89.00,189.93 90.00,189.92 91.00,189.92 92.00,189.91 93.00,189.90 94.00,189.89 95.00,189.88 96.00,189.87 97.00,189.85 98.00,189.83 99.00,189.81 100.00,189.77 101.00,189.73 101.30,189.72 101.50,189.71 101.70,189.70 101.90,189.68 102.00,189.68 102.10,189.67 102.30,189.66 102.50,189.64 102.70,189.63 102.90,189.61 103.00,189.60 103.10,189.59 103.30,189.57 103.50,189.55 103.70,189.53 103.90,189.51 104.00,189.50 104.10,189.48 104.30,189.45 104.50,189.42 104.70,189.39 104.90,189.35 105.00,189.33 105.10,189.31 105.30,189.27 105.50,189.22 105.70,189.17 105.90,189.11 106.00,189.08 106.10,189.04 106.30,188.97 106.50,188.88 106.70,188.79 106.90,188.68 107.00,188.62 107.10,188.56 107.30,188.42 107.50,188.25 107.70,188.06 107.90,187.84 108.00,187.71 108.10,187.57 108.30,187.25 108.50,186.87 108.70,186.40 108.90,185.81 109.00,185.46 109.10,185.07 109.30,184.11 109.50,182.86 109.70,181.17 109.90,178.85 110.00,177.34 110.10,175.53 110.30,170.66 110.50,163.29 110.70,152.03 110.90,135.65 111.00,125.97 111.10,116.63 111.30,106.95 111.50,116.63 111.70,135.64 111.90,152.03 112.00,158.25 112.10,163.29 112.30,170.65 112.50,175.52 112.70,178.84 112.90,181.16 113.00,182.07 113.10,182.85 113.30,184.10 113.50,185.05 113.70,185.79 113.90,186.38 114.00,186.63 114.10,186.85 114.30,187.23 114.50,187.55 114.70,187.82 114.90,188.04 115.00,188.14 115.10,188.23 115.30,188.39 115.50,188.53 115.70,188.65 115.90,188.76 116.00,188.81 116.10,188.85 116.30,188.93 116.50,189.01 116.70,189.07 116.90,189.13 117.00,189.16 117.10,189.18 117.30,189.23 117.50,189.27 117.70,189.31 117.90,189.34 118.00,189.36 118.10,189.38 118.30,189.40 118.50,189.43 118.70,189.45 118.90,189.48 119.00,189.49 119.10,189.50 119.30,189.52 119.50,189.53 119.70,189.55 119.90,189.56 120.00,189.57 120.10,189.58 120.30,189.59 120.50,189.60 120.70,189.61 120.90,189.62 121.00,189.62 121.10,189.63 122.00,189.66 123.00,189.68 124.00,189.70 125.00,189.70 126.00,189.69 127.00,189.68 128.00,189.65 128.20,189.64 128.40,189.63 128.60,189.63 128.80,189.62 129.00,189.61 129.20,189.60 129.40,189.59 129.60,189.57 129.80,189.56 130.00,189.55 130.20,189.53 130.40,189.51 130.60,189.49 130.80,189.47 131.00,189.45 131.20,189.43 131.40,189.40 131.60,189.37 131.80,189.34 132.00,189.31 132.20,189.27 132.40,189.22 132.60,189.18 132.80,189.12 133.00,189.06 133.20,188.99 133.40,188.92 133.60,188.83 133.80,188.73 134.00,188.62 134.20,188.49 134.40,188.33 134.60,188.15 134.80,187.94 135.00,187.68 135.20,187.37 135.40,187.00 135.60,186.53 135.80,185.93 136.00,185.17 136.20,184.17 136.40,182.83 136.60,180.99 136.80,178.38 137.00,174.58 137.20,168.90 137.40,160.35 137.60,148.23 137.80,134.60 138.00,127.83 138.20,134.60 138.40,148.22 138.60,160.34 138.80,168.88 139.00,174.56 139.20,178.36 139.40,180.96 139.60,182.80 139.80,184.13 140.00,185.12 140.20,185.88 140.40,186.47 140.60,186.93 140.80,187.31 141.00,187.61 141.20,187.86 141.40,188.07 141.60,188.24 141.80,188.39 142.00,188.52 142.20,188.62 142.40,188.72 142.60,188.80 142.80,188.87 143.00,188.93 143.20,188.98 143.40,189.03 143.60,189.07 143.80,189.10 144.00,189.13 144.20,189.16 144.40,189.18 144.60,189.20 144.80,189.22 145.00,189.23 145.20,189.24 145.40,189.25 145.60,189.26 145.80,189.26 146.00,189.26 146.20,189.26 146.40,189.26 146.60,189.26 146.80,189.25 147.00,189.25 147.20,189.24 147.40,189.23 147.60,189.21 147.80,189.20 148.00,189.18 148.20,189.16 148.40,189.14 148.60,189.12 148.80,189.09 149.00,189.06 149.20,189.03 149.40,188.99 149.60,188.95 149.80,188.91 150.00,188.86 150.20,188.81 150.40,188.75 150.60,188.68 150.80,188.61 151.00,188.53 151.20,188.44 151.40,188.34 151.60,188.23 151.80,188.11 152.00,187.97 152.20,187.81 152.40,187.63 152.60,187.43 152.80,187.20 153.00,186.93 153.20,186.62 153.40,186.26 153.60,185.83 153.80,185.32 154.00,184.72 154.20,183.98 154.40,183.09 154.60,181.97 154.80,180.56 155.00,178.76 155.20,176.39 155.40,173.23 155.60,168.88 155.80,162.75 156.00,153.85 156.20,140.66 156.40,121.05 156.60,93.71 156.80,63.63 157.00,48.93 157.20,63.63 157.40,93.72 157.60,121.06 157.80,140.67 158.00,153.87 158.20,162.76 158.40,168.90 158.60,173.25 158.80,176.42 159.00,178.78 159.20,180.59 159.40,182.00 159.60,183.12 159.80,184.02 160.00,184.76 160.20,185.37 160.40,185.88 160.60,186.30 160.80,186.67 161.00,186.98 161.20,187.25 161.40,187.49 161.60,187.70 161.80,187.88 162.00,188.04 162.20,188.18 162.40,188.31 162.60,188.43 162.80,188.53 163.00,188.62 163.20,188.71 163.40,188.78 163.60,188.85 163.80,188.92 164.00,188.98 164.20,189.03 164.40,189.08 164.60,189.13 164.80,189.17 165.00,189.21 165.20,189.24 165.40,189.28 165.60,189.31 165.80,189.34 166.00,189.37 166.20,189.39 166.40,189.42 166.60,189.44 166.80,189.46 167.00,189.48 168.00,189.57 169.00,189.63 170.00,189.68 171.00,189.72 172.00,189.76 173.00,189.79 174.00,189.81 175.00,189.83 176.00,189.84 177.00,189.86 178.00,189.87 179.00,189.88 180.00,189.89 181.00,189.90 182.00,189.90 183.00,189.91 184.00,189.92 185.00,189.92 186.00,189.93 187.00,189.93 188.00,189.93 189.00,189.94 190.00,189.94 191.00,189.94 192.00,189.95 193.00,189.95 194.00,189.95 195.00,189.95 196.00,189.95 197.00,189.96 198.00,189.96 199.00,189.96 200.00,189.96 201.00,189.96 202.00,189.96 203.00,189.96 204.00,189.97 205.00,189.97 206.00,189.97 207.00,189.97 208.00,189.97 209.00,189.97 210.00,189.97 211.00,189.97 212.00,189.97 213.00,189.97 214.00,189.97 215.00,189.97 216.00,189.97 217.00,189.97 218.00,189.97 219.00,189.98 220.00,189.98 221.00,189.98 222.00,189.98 223.00,189.98 224.00,189.98 225.00,189.98 226.00,189.98 227.00,189.98 228.00,189.98 229.00,189.98 230.00,189.98 231.00,189.98 232.00,189.98 233.00,189.98 234.00,189.98 235.00,189.98 236.00,189.98 237.00,189.98 238.00,189.98 239.00,189.97 240.00,189.97 241.00,189.97 242.00,189.97 243.00,189.97 244.00,189.97 245.00,189.97 246.00,189.97 247.00,189.97 248.00,189.97 249.00,189.96 250.00,189.96 251.00,189.96 252.00,189.96 253.00,189.95 254.00,189.95 255.00,189.95 256.00,189.94 257.00,189.93 258.00,189.93 259.00,189.92 260.00,189.90 261.00,189.89 262.00,189.87 262.20,189.86 262.40,189.86 262.60,189.85 262.80,189.84 263.00,189.84 263.20,189.83 263.40,189.82 263.60,189.82 263.80,189.81 264.00,189.80 264.20,189.79 264.40,189.78 264.60,189.77 264.80,189.76 265.00,189.74 265.20,189.73 265.40,189.71 265.60,189.70 265.80,189.68 266.00,189.66 266.20,189.64 266.40,189.61 266.60,189.59 266.80,189.56 267.00,189.52 267.20,189.49 267.40,189.44 267.60,189.40 267.80,189.34 268.00,189.28 268.20,189.21 268.40,189.13 268.60,189.03 268.80,188.92 269.00,188.79 269.20,188.63 269.40,188.44 269.60,188.21 269.80,187.92 270.00,187.57 270.20,187.11 270.40,186.52 270.60,185.74 270.80,184.68 271.00,183.23 271.20,181.19 271.40,178.30 271.60,174.30 271.80,169.23 272.00,164.24 272.20,161.99 272.40,164.24 272.60,169.23 272.80,174.30 273.00,178.30 273.20,181.19 273.40,183.23 273.60,184.68 273.80,185.74 274.00,186.52 274.20,187.11 274.40,187.57 274.60,187.92 274.80,188.21 275.00,188.44 275.20,188.63 275.40,188.79 275.60,188.92 275.80,189.03 276.00,189.13 276.20,189.21 276.40,189.28 276.60,189.34 276.80,189.40 277.00,189.44 277.20,189.49 277.40,189.52 277.60,189.56 277.80,189.59 278.00,189.61 278.20,189.64 278.40,189.66 278.60,189.68 278.80,189.70 279.00,189.71 279.20,189.73 279.40,189.74 279.60,189.76 279.80,189.77 280.00,189.78 280.20,189.79 280.40,189.80 280.60,189.81 280.80,189.82 281.00,189.82 281.20,189.83 281.40,189.84 281.60,189.84 281.80,189.85 282.00,189.86 283.00,189.88 284.00,189.90 285.00,189.91 286.00,189.92 287.00,189.93 288.00,189.94 289.00,189.94 290.00,189.95 291.00,189.95 292.00,189.96 293.00,189.96 294.00,189.96 295.00,189.96 296.00,189.97 297.00,189.97 298.00,189.97 299.00,189.97 300.00,189.97 301.00,189.97 302.00,189.97 303.00,189.97 304.00,189.97 305.00,189.97 306.00,189.98 307.00,189.98 308.00,189.98 309.00,189.98 310.00,189.98 311.00,189.98 312.00,189.98 313.00,189.98 314.00,189.98 315.00,189.98 316.00,189.98 317.00,189.98 318.00,189.98 319.00,189.98 320.00,189.98 321.00,189.98 322.00,189.98 323.00,189.97 324.00,189.97 325.00,189.97 326.00,189.97 327.00,189.97 328.00,189.97 329.00,189.97 330.00,189.97 331.00,189.97 332.00,189.97 333.00,189.97 334.00,189.96 335.00,189.96 336.00,189.96 337.00,189.96 338.00,189.96 339.00,189.95 340.00,189.95 341.00,189.95 342.00,189.94 343.00,189.94 344.00,189.93 345.00,189.93 346.00,189.92 347.00,189.91 348.00,189.90 349.00,189.89 350.00,189.88 351.00,189.86 352.00,189.84 353.00,189.81 354.00,189.78 354.50,189.75 354.70,189.74 354.90,189.73 355.00,189.73 355.10,189.72 355.30,189.71 355.50,189.70 355.70,189.69 355.90,189.67 356.00,189.66 356.10,189.66 356.30,189.64 356.50,189.62 356.70,189.60 356.90,189.58 357.00,189.57 357.10,189.56 357.30,189.54 357.50,189.51 357.70,189.48 357.90,189.45 358.00,189.44 358.10,189.42 358.30,189.38 358.50,189.34 358.70,189.30 358.90,189.25 359.00,189.22 359.10,189.19 359.30,189.13 359.50,189.06 359.70,188.99 359.90,188.90 360.00,188.85 360.10,188.80 360.30,188.69 360.50,188.56 360.70,188.41 360.90,188.24 361.00,188.14 361.10,188.04 361.30,187.80 361.50,187.52 361.70,187.18 361.90,186.76 362.00,186.52 362.10,186.25 362.30,185.61 362.50,184.81 362.70,183.77 362.90,182.42 363.00,181.59 363.10,180.62 363.30,178.19 363.50,174.87 363.70,170.34 363.90,164.38 364.00,160.91 364.10,157.29 364.30,150.78 364.50,147.99 364.70,150.78 364.90,157.29 365.00,160.91 365.10,164.38 365.30,170.34 365.50,174.87 365.70,178.19 365.90,180.62 366.00,181.59 366.10,182.42 366.30,183.77 366.50,184.81 366.70,185.61 366.90,186.25 367.00,186.52 367.10,186.76 367.30,187.18 367.50,187.52 367.70,187.80 367.90,188.04 368.00,188.14 368.10,188.24 368.30,188.41 368.50,188.56 368.70,188.69 368.90,188.80 369.00,188.85 369.10,188.90 369.30,188.99 369.50,189.06 369.70,189.13 369.90,189.19 370.00,189.22 370.10,189.25 370.30,189.30 370.50,189.34 370.70,189.38 370.90,189.42 371.00,189.43 371.10,189.45 371.30,189.48 371.50,189.51 371.70,189.54 371.90,189.56 372.00,189.57 372.10,189.58 372.30,189.60 372.50,189.62 372.70,189.64 372.90,189.65 373.00,189.66 373.10,189.67 373.30,189.68 373.50,189.70 373.70,189.71 373.90,189.72 374.00,189.73 374.10,189.73 374.30,189.74 375.00,189.77 376.00,189.81 377.00,189.83 378.00,189.85 379.00,189.87 380.00,189.88 381.00,189.90 382.00,189.90 383.00,189.91 384.00,189.92 385.00,189.92 386.00,189.93 387.00,189.93 388.00,189.94 389.00,189.94 390.00,189.94 391.00,189.94 392.00,189.94 393.00,189.94 394.00,189.94 395.00,189.95 396.00,189.95 397.00,189.95 398.00,189.95 399.00,189.94 400.00,189.94 401.00,189.94 402.00,189.94 403.00,189.94 404.00,189.94 405.00,189.93 406.00,189.93 407.00,189.93 408.00,189.92 409.00,189.92 410.00,189.91 411.00,189.90 412.00,189.89 413.00,189.88 414.00,189.87 415.00,189.85 416.00,189.83 417.00,189.80 418.00,189.77 418.60,189.74 418.80,189.73 419.00,189.72 419.20,189.71 419.40,189.70 419.60,189.69 419.80,189.67 420.00,189.66 420.20,189.64 420.40,189.63 420.60,189.61 420.80,189.59 421.00,189.57 421.20,189.55 421.40,189.52 421.60,189.50 421.80,189.47 422.00,189.44 422.20,189.40 422.40,189.37 422.60,189.33 422.80,189.28 423.00,189.23 423.20,189.18 423.40,189.11 423.60,189.05 423.80,188.97 424.00,188.88 424.20,188.78 424.40,188.67 424.60,188.54 424.80,188.39 425.00,188.22 425.20,188.02 425.40,187.78 425.60,187.50 425.80,187.16 426.00,186.75 426.20,186.24 426.40,185.62 426.60,184.83 426.80,183.82 427.00,182.51 427.20,180.78 427.40,178.49 427.60,175.41 427.80,171.31 428.00,166.09 428.20,160.13 428.40,154.87 428.60,152.68 428.80,154.87 429.00,160.13 429.20,166.09 429.40,171.31 429.60,175.41 429.80,178.49 430.00,180.78 430.20,182.51 430.40,183.82 430.60,184.82 430.80,185.61 431.00,186.24 431.20,186.74 431.40,187.16 431.60,187.49 431.80,187.78 432.00,188.02 432.20,188.22 432.40,188.39 432.60,188.54 432.80,188.67 433.00,188.78 433.20,188.88 433.40,188.96 433.60,189.04 433.80,189.11 434.00,189.17 434.20,189.23 434.40,189.28 434.60,189.32 434.80,189.36 435.00,189.40 435.20,189.43 435.40,189.46 435.60,189.49 435.80,189.52 436.00,189.54 436.20,189.56 436.40,189.58 436.60,189.60 436.80,189.62 437.00,189.63 437.20,189.65 437.40,189.66 437.60,189.68 437.80,189.69 438.00,189.70 438.20,189.71 438.40,189.72 439.00,189.75 440.00,189.78 441.00,189.81 442.00,189.83 443.00,189.85 444.00,189.86 445.00,189.87 446.00,189.88 447.00,189.88 448.00,189.88 449.00,189.89 450.00,189.89 451.00,189.89 452.00,189.88 453.00,189.88 454.00,189.87 454.30,189.87 454.50,189.87 454.70,189.86 454.90,189.86 455.00,189.86 455.10,189.86 455.30,189.86 455.50,189.85 455.70,189.85 455.90,189.85 456.00,189.84 456.10,189.84 456.30,189.84 456.50,189.84 456.70,189.83 456.90,189.83 457.00,189.82 457.10,189.82 457.30,189.81 457.50,189.81 457.70,189.80 457.90,189.79 458.00,189.79 458.10,189.79 458.30,189.78 458.50,189.77 458.70,189.76 458.90,189.75 459.00,189.74 459.10,189.73 459.30,189.72 459.50,189.70 459.70,189.68 459.90,189.66 460.00,189.65 460.10,189.64 460.30,189.61 460.50,189.58 460.70,189.55 460.90,189.50 461.00,189.48 461.10,189.46 461.30,189.40 461.50,189.33 461.70,189.25 461.90,189.15 462.00,189.09 462.10,189.02 462.30,188.86 462.50,188.66 462.70,188.40 462.90,188.07 463.00,187.86 463.10,187.62 463.30,187.03 463.50,186.25 463.70,185.28 463.90,184.20 464.00,183.68 464.10,183.26 464.30,182.87 464.50,183.25 464.70,184.19 464.90,185.27 465.00,185.78 465.10,186.24 465.30,187.01 465.50,187.59 465.70,188.03 465.90,188.37 466.00,188.50 466.10,188.62 466.30,188.82 466.50,188.97 466.70,189.09 466.90,189.18 467.00,189.23 467.10,189.26 467.30,189.33 467.50,189.38 467.70,189.42 467.90,189.46 468.00,189.47 468.10,189.48 468.30,189.51 468.50,189.53 468.70,189.55 468.90,189.56 469.00,189.57 469.10,189.57 469.30,189.58 469.50,189.59 469.70,189.59 469.90,189.59 470.00,189.59 470.10,189.59 470.30,189.59 470.50,189.59 470.70,189.59 470.90,189.59 471.00,189.58 471.10,189.58 471.30,189.57 471.50,189.57 471.70,189.56 471.90,189.55 472.00,189.54 472.10,189.53 472.30,189.52 472.50,189.51 472.70,189.49 472.90,189.47 473.00,189.46 473.10,189.45 473.30,189.43 473.50,189.40 473.70,189.38 473.90,189.35 474.00,189.33 474.10,189.31 474.30,189.28 474.50,189.24 474.70,189.19 474.90,189.14 475.00,189.12 475.10,189.09 475.30,189.03 475.50,188.96 475.70,188.88 475.90,188.79 476.00,188.74 476.10,188.69 476.30,188.58 476.50,188.45 476.70,188.30 476.90,188.12 477.00,188.02 477.10,187.92 477.30,187.68 477.50,187.39 477.70,187.05 477.90,186.64 478.00,186.40 478.10,186.13 478.30,185.51 478.50,184.72 478.70,183.73 478.90,182.44 479.00,181.66 479.10,180.76 479.30,178.55 479.50,175.63 479.70,171.82 479.90,167.08 480.00,164.46 480.10,161.83 480.30,157.32 480.50,155.48 480.70,157.32 480.90,161.82 481.00,164.45 481.10,167.07 481.30,171.80 481.50,175.60 481.70,178.52 481.90,180.73 482.00,181.62 482.10,182.40 482.20,183.08 482.30,183.68 482.40,184.21 482.50,184.67 482.60,185.08 482.70,185.45 482.80,185.78 482.90,186.07 483.00,186.33 483.10,186.57 483.20,186.78 483.30,186.97 483.40,187.15 483.50,187.31 483.60,187.45 483.70,187.58 483.80,187.70 483.90,187.82 484.00,187.92 484.10,188.01 484.20,188.10 484.30,188.18 484.40,188.25 484.50,188.32 484.60,188.38 484.70,188.43 484.80,188.49 484.90,188.54 485.00,188.58 485.10,188.62 485.20,188.66 485.30,188.70 485.40,188.73 485.50,188.76 485.60,188.79 485.70,188.81 485.80,188.84 485.90,188.86 486.00,188.88 486.10,188.89 486.20,188.91 486.30,188.92 486.40,188.93 486.50,188.94 486.60,188.95 486.70,188.96 486.80,188.96 486.90,188.96 487.00,188.96 487.10,188.96 487.20,188.96 487.30,188.95 487.40,188.95 487.50,188.94 487.60,188.93 487.70,188.91 487.80,188.90 487.90,188.88 488.00,188.86 488.10,188.84 488.20,188.81 488.30,188.78 488.40,188.75 488.50,188.71 488.60,188.67 488.70,188.63 488.80,188.58 488.90,188.52 489.00,188.46 489.10,188.39 489.20,188.31 489.30,188.23 489.40,188.13 489.50,188.02 489.60,187.90 489.70,187.77 489.80,187.62 489.90,187.45 490.00,187.26 490.10,187.05 490.20,186.80 490.30,186.53 490.40,186.21 490.60,185.43 490.80,184.40 491.00,183.05 491.20,181.28 491.40,179.09 491.60,176.68 491.80,174.63 492.00,173.80 492.20,174.64 492.40,176.71 492.60,179.13 492.80,181.33 493.00,183.11 493.20,184.48 493.40,185.52 493.60,186.32 493.80,186.93 494.00,187.40 494.20,187.77 494.40,188.07 494.60,188.32 494.80,188.51 495.00,188.68 495.20,188.82 495.40,188.93 495.60,189.03 495.80,189.12 496.00,189.19 496.20,189.26 496.40,189.31 496.60,189.36 496.80,189.41 497.00,189.45 497.20,189.48 497.40,189.51 497.60,189.54 497.80,189.57 498.00,189.59 498.20,189.61 498.40,189.63 498.60,189.65 498.80,189.67 499.00,189.68 499.20,189.70 499.40,189.71 499.60,189.72 499.80,189.73 500.00,189.74 500.20,189.75 500.40,189.76 500.60,189.77 500.80,189.78 501.00,189.79 501.20,189.79 501.40,189.80 501.60,189.81 501.80,189.81 502.00,189.82 503.00,189.84 504.00,189.86 505.00,189.88 506.00,189.89 507.00,189.90 508.00,189.91 509.00,189.92 510.00,189.92 511.00,189.93 512.00,189.93 513.00,189.94 514.00,189.94 515.00,189.94 516.00,189.94 517.00,189.94 517.40,189.94 517.60,189.94 517.80,189.94 518.00,189.94 518.20,189.94 518.40,189.94 518.60,189.94 518.80,189.94 519.00,189.94 519.20,189.94 519.40,189.94 519.60,189.94 519.80,189.94 520.00,189.93 520.20,189.93 520.40,189.93 520.60,189.93 520.80,189.93 521.00,189.93 521.20,189.93 521.40,189.92 521.60,189.92 521.80,189.92 522.00,189.91 522.20,189.91 522.40,189.91 522.60,189.90 522.80,189.90 523.00,189.89 523.20,189.88 523.40,189.88 523.60,189.87 523.80,189.86 524.00,189.84 524.20,189.83 524.40,189.81 524.60,189.79 524.80,189.76 525.00,189.73 525.20,189.70 525.40,189.65 525.60,189.59 525.80,189.51 526.00,189.41 526.20,189.27 526.40,189.10 526.60,188.88 526.80,188.61 527.00,188.32 527.20,188.07 527.40,187.97 527.60,188.07 527.80,188.32 528.00,188.61 528.20,188.88 528.40,189.10 528.60,189.28 528.80,189.41 529.00,189.51 529.20,189.59 529.40,189.65 529.60,189.70 529.80,189.74 530.00,189.77 530.20,189.80 530.40,189.82 530.60,189.84 530.80,189.85 531.00,189.86 531.20,189.87 531.40,189.88 531.60,189.89 531.80,189.90 532.00,189.91 532.20,189.91 532.40,189.92 532.60,189.92 532.80,189.93 533.00,189.93 533.20,189.93 533.40,189.94 533.60,189.94 533.80,189.94 534.00,189.94 534.20,189.95 534.40,189.95 534.60,189.95 534.80,189.95 535.00,189.95 535.20,189.95 535.40,189.96 535.60,189.96 535.80,189.96 536.00,189.96 536.20,189.96 536.40,189.96 536.60,189.96 536.80,189.96 537.00,189.96 537.20,189.96 538.00,189.97 539.00,189.97 540.00,189.97 541.00,189.97 542.00,189.97 543.00,189.98 544.00,189.98 545.00,189.98 546.00,189.98 547.00,189.98 548.00,189.98 549.00,189.98 550.00,189.98 551.00,189.98 552.00,189.98 553.00,189.98 554.00,189.98 555.00,189.98 556.00,189.98 557.00,189.98 558.00,189.97 559.00,189.97 560.00,189.97 561.00,189.97 562.00,189.96 562.30,189.96 562.50,189.96 562.70,189.96 562.90,189.96 563.00,189.96 563.10,189.96 563.30,189.96 563.50,189.95 563.70,189.95 563.90,189.95 564.00,189.95 564.10,189.95 564.30,189.95 564.50,189.95 564.70,189.94 564.90,189.94 565.00,189.94 565.10,189.94 565.30,189.94 565.50,189.93 565.70,189.93 565.90,189.92 566.00,189.92 566.10,189.92 566.30,189.92 566.50,189.91 566.70,189.91 566.90,189.90 567.00,189.90 567.10,189.89 567.30,189.88 567.50,189.88 567.70,189.87 567.90,189.85 568.00,189.85 568.10,189.84 568.30,189.83 568.50,189.81 568.70,189.79 568.90,189.77 569.00,189.76 569.10,189.74 569.30,189.71 569.50,189.67 569.70,189.63 569.90,189.57 570.00,189.54 570.10,189.51 570.30,189.42 570.50,189.31 570.70,189.18 570.90,189.01 571.00,188.90 571.10,188.78 571.30,188.49 571.50,188.12 571.70,187.69 571.90,187.22 572.00,187.01 572.10,186.84 572.30,186.69 572.50,186.84 572.70,187.22 572.90,187.69 573.00,187.91 573.10,188.12 573.30,188.49 573.50,188.78 573.70,189.01 573.90,189.18 574.00,189.25 574.10,189.32 574.30,189.42 574.50,189.51 574.70,189.57 574.90,189.63 575.00,189.65 575.10,189.67 575.30,189.71 575.50,189.74 575.70,189.77 575.90,189.79 576.00,189.80 576.10,189.81 576.30,189.83 576.50,189.84 576.70,189.86 576.90,189.87 577.00,189.87 577.10,189.88 577.30,189.89 577.50,189.89 577.70,189.90 577.90,189.91 578.00,189.91 578.10,189.91 578.30,189.92 578.50,189.92 578.70,189.93 578.90,189.93 579.00,189.93 579.10,189.93 579.30,189.94 579.50,189.94 579.70,189.94 579.90,189.95 580.00,189.95 580.10,189.95 580.30,189.95 580.50,189.95 580.70,189.95 580.90,189.96 581.00,189.96 581.10,189.96 581.30,189.96 581.50,189.96 581.70,189.96 581.90,189.96 582.00,189.96 582.10,189.96 583.00,189.97 584.00,189.97 585.00,189.98 586.00,189.98 587.00,189.98 588.00,189.98 589.00,189.98 590.00,189.99 591.00,189.99 592.00,189.99 593.00,189.99 594.00,189.99 595.00,189.99 596.00,189.99 597.00,189.99 598.00,189.99 599.00,189.99 600.00,189.99 601.00,189.99 602.00,189.99"/>
</g>
<g clip-path="url(#cr)">
<polyline fill="none" stroke="#BE005C" stroke-width="4" stroke-linejoin="round" stroke-linecap="butt" points="684.00,386.00 684.00,386.30 685.00,386.28 686.00,385.88 687.00,386.58 688.00,385.78 689.00,386.49 690.00,385.98 691.00,386.34 692.00,385.66 693.00,385.62 694.00,385.28 695.00,386.01 696.00,386.12 697.00,386.60 698.00,386.18 699.00,385.66 700.00,385.41 700.00,385.50 701.00,385.67 702.00,385.49 703.00,386.16 704.00,385.92 705.00,385.12 706.00,385.19 707.00,386.12 708.00,385.64 709.00,385.40 710.00,386.03 711.00,385.33 711.40,385.50 712.00,385.28 713.00,385.05 714.00,384.23 715.00,385.35 716.00,384.26 717.00,384.40 718.00,384.17 719.00,384.68 720.00,384.18 721.00,384.06 722.00,383.15 722.70,383.80 723.00,383.76 724.00,383.14 725.00,383.94 726.00,383.97 727.00,383.79 728.00,384.72 729.00,384.04 730.00,384.07 731.00,383.86 731.80,383.80 732.00,383.47 733.00,382.77 734.00,381.62 734.10,381.00 735.00,380.49 736.00,381.64 737.00,381.49 738.00,381.77 739.00,381.64 739.80,381.50 740.00,380.84 741.00,380.36 742.00,381.20 743.00,379.99 744.00,378.73 745.00,379.01 745.50,378.60 746.00,378.30 747.00,377.35 748.00,376.87 749.00,376.90 750.00,377.47 751.00,377.05 752.00,376.68 753.00,376.64 753.40,376.40 754.00,376.16 755.00,374.09 756.00,374.05 756.80,373.50 757.00,373.08 758.00,372.66 759.00,372.73 760.00,372.68 761.00,372.38 761.40,372.40 762.00,371.04 763.00,370.30 764.00,370.25 764.80,368.40 765.00,367.41 766.00,364.53 767.00,362.70 767.00,362.82 768.00,360.01 769.00,357.00 769.30,355.90 770.00,353.33 771.00,351.32 771.60,349.10 772.00,348.28 773.00,346.94 774.00,346.00 775.00,345.05 775.00,345.10 776.00,341.31 777.00,337.16 777.70,334.00 778.00,333.06 779.00,330.38 780.00,326.88 781.00,324.14 782.00,319.99 782.20,320.00 783.00,316.51 784.00,314.09 785.00,309.64 786.00,306.65 786.80,304.00 787.00,303.42 788.00,300.58 789.00,297.93 790.00,296.09 791.00,291.66 791.30,292.00 792.00,291.83 793.00,291.65 794.00,289.80 794.00,289.81 795.00,290.52 796.00,291.59 797.00,292.00 797.00,292.82 798.00,294.99 799.00,299.10 800.00,302.50 800.40,304.00 801.00,305.06 802.00,306.24 803.00,307.81 803.80,308.60 804.00,309.25 805.00,313.69 806.00,317.59 806.50,320.00 807.00,322.56 808.00,328.51 809.00,334.22 809.30,336.00 810.00,337.38 811.00,341.34 811.50,342.00 812.00,342.94 813.00,344.38 813.50,346.00 814.00,347.92 815.00,349.95 816.00,353.37 816.30,354.00 817.00,355.41 818.00,357.55 819.00,359.54 820.00,361.22 820.80,363.10 821.00,363.51 822.00,366.39 823.00,366.45 824.00,369.46 825.00,371.60 825.40,372.20 826.00,371.93 827.00,372.12 828.00,374.05 829.00,373.25 830.00,374.69 831.00,374.34 832.00,374.47 832.20,374.50 833.00,374.97 834.00,375.37 835.00,375.94 836.00,375.93 837.00,376.12 838.00,376.46 839.00,376.70 839.00,377.31 840.00,377.84 841.00,377.80 842.00,378.74 843.00,379.95 844.00,380.29 845.00,381.18 845.20,381.50 846.00,381.17 847.00,381.61 848.00,382.04 849.00,382.43 850.00,382.11 851.00,383.16 852.00,382.32 853.00,383.92 854.00,383.06 855.00,382.95 856.00,382.63 857.00,381.71 858.00,383.04 859.00,383.31 860.00,384.22 861.00,382.86 862.00,384.47 863.00,383.62 864.00,384.19 864.30,383.90 865.00,382.82 866.00,384.12 867.00,383.99 868.00,384.55 869.00,384.37 870.00,383.91 871.00,384.94 872.00,384.92 873.00,384.97 874.00,385.25 875.00,385.38 876.00,384.97 877.00,384.46 878.00,384.54 879.00,385.86 880.00,385.66 881.00,385.48 881.70,385.50 882.00,385.31 883.00,385.55 884.00,385.57 885.00,385.43 886.00,385.29 887.00,386.60 888.00,385.75 889.00,385.40 890.00,385.11 891.00,385.40 892.00,386.07 893.00,386.11 894.00,385.70 895.00,385.84 896.00,385.71 897.00,385.37 898.00,386.48 899.00,386.08 900.00,387.05 901.00,385.62 902.00,385.93 903.00,386.41 904.00,385.93 905.00,385.44 906.00,385.66 907.00,386.15 908.00,386.29 909.00,386.11 910.00,386.63 911.00,386.65 912.00,386.37 913.00,386.26 914.00,386.16 915.00,386.55 916.00,386.74 917.00,386.38 918.00,386.57 919.00,386.25 920.00,385.78 921.00,385.99 922.00,386.81 923.00,386.69 924.00,387.23 925.00,386.57 926.00,386.95 927.00,387.18 927.50,386.60 928.00,387.05 929.00,386.33 930.00,386.52 931.00,386.66 932.00,386.16 933.00,386.81 934.00,387.06 935.00,386.38 936.00,387.49 937.00,386.47 938.00,386.51 939.00,386.49 940.00,386.28 941.00,386.79 942.00,386.61 943.00,387.35 944.00,386.87 945.00,386.84 946.00,386.50 947.00,385.96 948.00,386.56 949.00,386.22 950.00,387.03 951.00,386.59 952.00,387.35 953.00,386.93 954.00,386.98 955.00,386.70 956.00,386.69 957.00,386.89 958.00,387.02 959.00,386.28 960.00,386.82 961.00,387.78 962.00,386.56 963.00,386.49 964.00,386.29 965.00,385.95 966.00,387.13 967.00,386.63 968.00,386.73 969.00,387.43 970.00,387.73 971.00,386.20 972.00,387.07 973.00,386.88 974.00,386.78 975.00,386.60 975.00,386.82 976.00,386.58 977.00,387.30 978.00,386.85 979.00,386.72 980.00,387.12 981.00,386.95 982.00,386.75 983.00,386.68 984.00,387.32 985.00,386.75 986.00,386.47 987.00,386.11 988.00,386.34 989.00,386.01 990.00,386.52 991.00,386.58 992.00,385.54 993.00,386.46 994.00,386.73 995.00,386.51 996.00,386.00 997.00,386.99 998.00,386.09 999.00,385.85 1000.00,385.90 1001.00,386.38 1002.00,386.82 1003.00,386.89 1004.00,386.45 1005.00,385.81 1006.00,386.04 1007.00,385.93 1008.00,386.24 1009.00,385.52 1010.00,386.36 1011.00,386.59 1012.00,386.22 1013.00,386.49 1014.00,385.85 1015.00,385.61 1016.00,385.97 1017.00,386.77 1018.00,386.70 1019.00,386.03 1020.00,386.76 1021.00,386.07 1022.00,386.89 1022.60,386.20 1023.00,386.41 1024.00,385.98 1025.00,386.53 1026.00,385.82 1027.00,385.73 1028.00,385.49 1029.00,386.25 1030.00,386.10 1031.00,386.08 1032.00,385.92 1033.00,386.74 1034.00,385.89 1035.00,385.74 1036.00,386.62 1037.00,386.69 1038.00,386.19 1039.00,385.25 1040.00,385.75 1041.00,386.28 1042.00,386.01 1043.00,386.69 1044.00,385.36 1045.00,386.27 1046.00,385.67 1047.00,386.54 1048.00,385.90 1049.00,386.39 1050.00,385.62 1051.00,385.27 1052.00,385.39 1053.00,385.61 1054.00,385.41 1055.00,386.40 1056.00,386.45 1057.00,385.96 1058.00,385.36 1059.00,385.77 1060.00,385.50 1061.00,386.45 1062.00,385.93 1063.00,386.00 1064.00,385.59 1065.00,384.85 1066.00,385.40 1067.00,385.23 1068.00,385.89 1069.00,385.76 1070.00,385.34 1071.00,385.52 1072.00,386.39 1073.00,385.24 1074.00,385.25 1075.00,385.55 1076.00,385.33 1077.00,385.44 1078.00,385.86 1079.00,386.39 1080.00,384.80 1080.00,385.60 1081.00,385.49 1082.00,385.41 1083.00,385.25 1084.00,385.10 1085.00,384.92 1086.00,385.42 1087.00,384.66 1088.00,384.70 1089.00,384.65 1090.00,384.60 1091.00,384.37 1092.00,384.79 1093.00,384.23 1094.00,384.21 1095.00,384.00 1096.00,383.47 1097.00,383.44 1098.00,383.24 1099.00,383.69 1100.00,383.18 1100.00,383.50 1101.00,382.90 1102.00,383.36 1103.00,383.36 1104.00,382.21 1105.00,383.64 1106.00,382.76 1107.00,382.58 1108.00,382.98 1109.00,382.41 1110.00,381.98 1111.00,383.11 1112.00,381.52 1113.00,381.83 1114.00,382.13 1115.00,381.14 1116.00,381.45 1116.00,381.50 1117.00,381.46 1118.00,382.15 1119.00,380.45 1120.00,380.62 1121.00,380.72 1122.00,380.25 1123.00,379.46 1124.00,379.97 1125.00,379.62 1126.00,379.55 1127.00,379.65 1128.00,379.38 1129.00,378.89 1129.50,378.60 1130.00,378.41 1131.00,377.11 1132.00,376.87 1133.00,376.37 1134.00,375.42 1135.00,374.98 1136.00,373.90 1137.00,374.29 1138.00,373.90 1139.00,372.09 1139.70,371.80 1140.00,371.20 1141.00,368.31 1142.00,366.39 1143.00,363.42 1143.20,362.70 1144.00,362.71 1145.00,362.54 1146.00,362.66 1147.00,362.11 1148.00,362.83 1148.80,362.50 1149.00,361.59 1150.00,359.22 1151.00,356.10 1152.00,353.60 1153.00,350.17 1153.40,349.00 1154.00,348.00 1155.00,344.70 1156.00,342.96 1157.00,340.16 1158.00,337.92 1159.00,335.40 1159.00,335.43 1160.00,332.86 1161.00,328.58 1162.00,326.68 1163.00,322.90 1163.60,321.80 1164.00,321.90 1165.00,319.35 1166.00,318.67 1167.00,317.25 1167.00,318.00 1168.00,319.35 1169.00,318.65 1170.00,319.89 1171.00,320.22 1172.00,320.26 1172.70,321.50 1173.00,321.58 1174.00,322.81 1175.00,323.21 1176.00,324.49 1177.00,324.68 1177.20,325.00 1178.00,327.45 1179.00,330.33 1180.00,333.72 1180.60,335.40 1181.00,337.85 1182.00,341.16 1183.00,345.09 1184.00,348.72 1184.00,349.00 1185.00,350.16 1186.00,352.66 1187.00,353.00 1188.00,354.59 1188.60,355.90 1189.00,356.93 1190.00,359.46 1191.00,363.20 1192.00,363.94 1192.00,365.00 1193.00,366.36 1194.00,367.71 1195.00,368.07 1196.00,369.48 1197.00,371.16 1197.70,371.80 1198.00,372.68 1199.00,372.04 1200.00,372.24 1201.00,373.89 1202.00,374.64 1203.00,374.30 1204.00,373.95 1205.00,376.10 1206.00,375.86 1206.70,376.30 1207.00,376.91 1208.00,376.75 1209.00,376.96 1210.00,377.28 1211.00,378.50 1212.00,378.85 1213.00,377.60 1214.00,378.50 1215.00,380.08 1216.00,379.47 1217.00,379.38 1218.00,380.35 1219.00,380.66 1220.00,381.02 1221.00,381.21 1222.00,381.65 1222.60,382.00 1223.00,381.84 1224.00,382.30 1225.00,381.89 1226.00,382.24 1227.00,382.41 1228.00,383.17 1229.00,382.86 1230.00,382.75 1231.00,383.14 1232.00,383.19 1233.00,383.61 1234.00,383.45 1235.00,384.14 1236.00,384.05 1237.00,383.53 1238.00,383.47 1239.00,384.16 1240.00,384.10 1241.00,383.94 1242.00,383.42 1243.00,383.37 1244.00,384.30 1244.00,384.46"/>
<polyline fill="none" stroke="#FF0000" stroke-width="4" stroke-linejoin="round" stroke-linecap="butt" points="684.00,336.70 684.00,337.97 685.00,337.08 686.00,336.40 687.00,336.26 688.00,335.08 689.00,336.35 690.00,336.52 691.00,337.02 692.00,336.85 693.00,336.82 694.00,336.63 695.00,336.82 696.00,337.16 697.00,336.01 698.00,336.27 699.00,335.83 700.00,337.17 701.00,337.01 702.00,336.75 702.60,336.40 703.00,335.81 704.00,336.31 705.00,336.01 706.00,336.03 707.00,335.79 708.00,336.00 709.00,335.47 710.00,335.91 711.00,335.52 711.90,335.30 712.00,335.17 713.00,335.29 714.00,335.18 715.00,335.78 716.00,335.33 717.00,335.62 718.00,335.34 719.00,334.89 720.00,336.00 721.00,335.15 722.00,335.97 723.00,335.89 724.00,334.99 725.00,335.35 725.80,335.80 726.00,335.53 727.00,335.19 728.00,334.82 729.00,335.48 730.00,334.83 731.00,334.91 732.00,334.34 733.00,334.47 734.00,333.79 735.00,333.91 735.10,333.90 736.00,334.05 737.00,333.68 738.00,333.32 739.00,332.91 740.00,333.35 741.00,333.30 742.00,332.90 743.00,332.54 744.00,333.00 745.00,333.74 746.00,332.36 747.00,332.52 748.00,332.41 749.00,330.96 749.10,332.10 750.00,331.71 751.00,330.83 751.90,330.70 752.00,331.37 753.00,331.14 754.00,331.40 755.00,332.15 756.00,332.82 756.50,333.00 757.00,332.29 758.00,331.61 759.00,330.11 760.00,329.71 761.00,329.25 762.00,328.88 762.10,327.90 763.00,328.31 764.00,328.22 765.00,328.74 766.00,328.77 766.80,328.40 767.00,328.96 768.00,327.75 769.00,326.27 770.00,325.49 771.00,324.51 772.00,323.62 772.30,323.20 773.00,322.59 774.00,321.15 775.00,319.55 776.00,319.20 776.00,319.50 777.00,317.77 778.00,317.89 778.80,317.20 779.00,316.76 780.00,313.79 780.70,313.00 781.00,312.14 782.00,308.33 782.60,305.60 783.00,304.52 784.00,302.43 784.60,300.00 785.00,299.50 786.00,294.75 787.00,292.39 787.90,288.90 788.00,288.74 789.00,285.16 790.00,281.83 791.00,277.52 791.60,275.70 792.00,273.39 793.00,268.17 794.00,263.08 794.20,262.40 795.00,257.76 796.00,251.42 796.50,249.20 797.00,245.73 798.00,240.46 798.70,236.00 799.00,234.77 799.60,232.40 800.00,229.97 801.00,222.45 801.00,223.30 802.00,216.45 802.40,214.20 803.00,212.43 804.00,210.17 805.00,207.36 806.00,205.10 806.00,205.52 807.00,201.21 808.00,197.38 809.00,193.51 809.70,190.80 810.00,193.36 811.00,200.29 811.00,200.50 811.60,205.10 812.00,208.03 813.00,213.80 813.10,214.20 814.00,219.73 814.60,223.30 815.00,225.92 816.00,232.40 816.00,232.63 817.00,239.77 817.10,240.00 818.00,247.33 818.30,249.20 819.00,253.99 820.00,260.81 820.30,262.40 821.00,269.61 821.60,275.70 822.00,277.51 823.00,280.05 823.30,281.00 824.00,281.18 825.00,284.30 826.00,285.33 827.00,286.34 827.40,287.50 828.00,290.35 828.40,292.40 829.00,294.21 830.00,299.24 830.60,300.50 831.00,301.67 832.00,303.09 833.00,306.39 834.00,308.32 834.00,308.50 835.00,312.07 836.00,313.43 837.00,315.60 837.70,318.50 838.00,318.05 839.00,316.25 840.00,314.60 840.80,313.50 841.00,313.18 842.00,317.52 843.00,321.28 843.90,323.40 844.00,322.63 845.00,324.85 846.00,324.91 847.00,327.06 848.00,327.04 848.30,327.10 849.00,327.20 850.00,328.05 851.00,328.05 852.00,327.82 853.00,328.67 853.20,328.40 854.00,328.33 855.00,327.94 856.00,329.86 857.00,328.98 858.00,329.05 859.00,329.68 859.40,329.60 860.00,329.14 861.00,329.64 862.00,330.42 863.00,330.82 864.00,331.49 865.00,332.36 865.60,332.10 866.00,331.93 867.00,332.48 868.00,332.65 869.00,332.01 870.00,332.71 871.00,332.30 872.00,333.32 873.00,333.16 874.00,333.08 875.00,332.59 876.00,333.36 877.00,333.08 878.00,333.85 879.00,333.60 880.00,333.40 881.00,334.30 882.00,334.00 882.00,334.32 883.00,333.77 884.00,334.60 885.00,333.98 886.00,334.02 887.00,334.25 888.00,333.90 889.00,334.08 890.00,334.24 891.00,335.04 892.00,335.07 893.00,334.32 894.00,335.20 895.00,334.49 896.00,334.73 897.00,334.99 898.00,334.76 899.00,335.76 900.00,334.82 901.00,334.21 902.00,335.38 903.00,334.65 904.00,334.73 905.00,333.56 906.00,335.40 907.00,335.36 908.00,335.39 909.00,335.51 910.00,335.87 911.00,335.13 912.00,335.61 913.00,334.89 914.00,335.11 915.00,335.78 916.00,335.52 917.00,334.78 918.00,335.59 919.00,335.38 920.00,335.13 921.00,335.74 922.00,335.40 923.00,334.92 924.00,335.16 925.00,336.50 926.00,335.06 927.00,335.88 927.50,335.80 928.00,336.08 929.00,336.10 930.00,335.27 931.00,335.69 932.00,335.91 933.00,336.22 934.00,335.58 935.00,335.36 936.00,336.34 937.00,336.40 938.00,336.08 939.00,335.65 940.00,336.11 941.00,335.99 942.00,336.33 943.00,335.40 944.00,336.03 945.00,335.91 946.00,335.50 947.00,336.10 948.00,336.03 949.00,335.84 950.00,336.22 951.00,335.41 952.00,336.03 953.00,336.26 954.00,336.21 955.00,336.57 956.00,335.56 957.00,335.43 958.00,336.23 959.00,336.34 960.00,337.10 961.00,336.43 962.00,335.77 963.00,336.54 964.00,335.80 965.00,335.53 966.00,337.38 967.00,336.36 968.00,336.55 969.00,336.49 970.00,337.06 971.00,336.39 972.00,336.82 973.00,335.82 974.00,335.66 975.00,336.30 975.00,336.94 976.00,336.95 977.00,336.51 978.00,336.37 979.00,336.33 980.00,335.94 981.00,336.93 982.00,336.52 983.00,336.44 984.00,336.37 985.00,336.67 986.00,336.41 987.00,336.51 988.00,335.64 989.00,336.38 990.00,337.13 991.00,335.90 992.00,336.06 993.00,336.51 994.00,336.53 995.00,336.37 996.00,335.35 997.00,336.29 998.00,335.53 999.00,335.68 1000.00,336.28 1001.00,335.89 1002.00,336.38 1003.00,337.42 1004.00,336.35 1005.00,336.31 1006.00,335.57 1007.00,335.67 1008.00,335.47 1009.00,335.70 1010.00,335.44 1011.00,335.62 1012.00,335.82 1013.00,335.45 1014.00,335.25 1015.00,335.27 1016.00,336.07 1017.00,335.89 1018.00,336.31 1019.00,336.31 1020.00,335.67 1021.00,336.12 1022.00,335.16 1022.60,335.80 1023.00,336.83 1024.00,336.34 1025.00,335.70 1026.00,335.27 1027.00,335.96 1028.00,334.95 1029.00,335.44 1030.00,336.12 1031.00,335.82 1032.00,335.56 1033.00,336.21 1034.00,335.31 1035.00,335.91 1036.00,335.55 1037.00,335.39 1038.00,335.98 1039.00,335.32 1040.00,336.63 1041.00,335.50 1042.00,336.66 1043.00,335.27 1044.00,336.04 1045.00,335.22 1046.00,335.16 1047.00,335.83 1048.00,336.06 1049.00,335.18 1050.00,336.29 1051.00,335.39 1052.00,335.81 1053.00,335.92 1054.00,336.01 1055.00,334.93 1056.00,336.47 1057.00,335.99 1058.00,335.55 1059.00,335.28 1060.00,334.97 1061.00,335.12 1062.00,335.98 1063.00,335.58 1064.00,335.22 1065.00,335.49 1066.00,336.43 1067.00,335.57 1068.00,335.46 1069.00,336.33 1070.00,335.93 1071.00,335.74 1072.00,335.44 1073.00,335.01 1074.00,335.18 1075.00,335.49 1076.00,335.61 1077.00,335.87 1078.00,335.95 1079.00,335.80 1080.00,335.70 1080.00,335.80 1081.00,335.18 1082.00,334.59 1083.00,335.26 1084.00,334.99 1085.00,335.06 1086.00,335.16 1087.00,334.65 1088.00,334.64 1089.00,335.02 1090.00,335.05 1091.00,334.63 1092.00,335.08 1093.00,334.69 1094.00,334.26 1095.00,334.67 1096.00,335.43 1097.00,334.21 1098.00,334.96 1099.00,334.99 1100.00,334.30 1100.00,334.97 1101.00,333.83 1102.00,335.01 1103.00,334.06 1104.00,333.80 1105.00,333.71 1106.00,333.99 1107.00,333.65 1108.00,333.45 1109.00,334.01 1110.00,333.01 1111.00,332.77 1111.40,333.20 1112.00,333.56 1113.00,333.52 1114.00,333.69 1115.00,332.72 1116.00,333.69 1117.00,333.42 1118.00,333.99 1119.00,332.64 1120.00,333.30 1121.00,333.08 1122.00,332.48 1122.70,333.20 1123.00,332.82 1124.00,333.44 1125.00,332.52 1126.00,332.20 1127.00,332.72 1128.00,332.57 1129.00,332.36 1130.00,331.36 1131.00,331.48 1132.00,331.77 1133.00,330.81 1134.00,330.56 1134.00,330.90 1135.00,330.68 1136.00,330.41 1137.00,328.59 1138.00,327.35 1139.00,327.26 1139.70,327.50 1140.00,326.91 1141.00,326.87 1142.00,326.77 1143.00,325.99 1144.00,325.30 1145.00,325.25 1146.00,324.31 1147.00,324.29 1147.70,324.00 1148.00,323.24 1149.00,323.15 1150.00,320.74 1151.00,318.41 1152.00,316.76 1153.00,315.43 1153.40,315.00 1154.00,313.53 1155.00,312.73 1156.00,311.51 1157.00,311.03 1158.00,309.22 1159.00,307.84 1159.00,308.20 1160.00,305.60 1161.00,303.67 1162.00,302.17 1163.00,300.10 1163.60,299.00 1164.00,298.45 1165.00,295.01 1166.00,293.12 1167.00,290.00 1167.00,290.12 1168.00,283.82 1169.00,276.73 1170.00,270.87 1170.30,269.60 1171.00,266.39 1172.00,261.62 1173.00,256.03 1174.00,251.22 1175.00,245.63 1175.20,244.80 1176.00,243.02 1177.00,240.88 1178.00,239.60 1179.00,237.30 1180.00,235.03 1181.00,232.97 1182.00,231.35 1182.20,230.70 1183.00,231.94 1184.00,232.79 1185.00,235.30 1186.00,236.01 1187.00,237.27 1187.10,237.40 1188.00,245.19 1189.00,252.91 1189.60,257.20 1190.00,259.14 1191.00,264.39 1192.00,268.62 1192.10,269.60 1193.00,274.88 1194.00,280.33 1195.00,288.08 1195.40,290.00 1196.00,291.49 1197.00,296.57 1197.70,299.00 1198.00,299.13 1199.00,300.74 1200.00,302.77 1201.00,304.65 1202.00,306.48 1203.00,308.68 1204.00,309.72 1204.50,310.40 1205.00,311.63 1206.00,312.65 1207.00,314.91 1208.00,316.34 1209.00,317.74 1210.00,319.58 1211.00,321.27 1211.30,321.80 1212.00,322.35 1213.00,323.11 1214.00,323.36 1215.00,323.92 1216.00,325.25 1217.00,324.81 1218.00,325.96 1218.10,326.30 1219.00,327.33 1220.00,325.79 1221.00,327.07 1222.00,328.07 1223.00,327.39 1224.00,329.67 1225.00,327.71 1226.00,329.90 1227.00,330.33 1227.20,329.70 1228.00,330.28 1229.00,329.97 1230.00,330.43 1231.00,330.07 1232.00,331.04 1233.00,330.38 1234.00,330.96 1235.00,331.74 1236.00,330.99 1237.00,331.53 1238.00,331.97 1238.50,332.00 1239.00,331.61 1240.00,333.15 1241.00,333.20 1242.00,332.78 1243.00,333.86 1244.00,333.95 1244.00,334.30"/>
<polyline fill="none" stroke="#000080" stroke-width="4" stroke-linejoin="round" stroke-linecap="butt" points="684.00,266.60 684.00,266.77 685.00,265.57 686.00,266.95 687.00,266.09 688.00,266.15 689.00,266.94 690.00,266.61 691.00,265.95 692.00,267.48 693.00,266.27 694.00,266.78 695.00,266.76 696.00,267.31 697.00,266.48 698.00,267.14 699.00,266.36 699.50,266.70 700.00,267.19 701.00,266.31 702.00,266.45 703.00,267.43 704.00,266.69 705.00,266.56 706.00,267.49 707.00,266.61 708.00,266.04 709.00,266.70 710.00,265.81 711.00,266.81 712.00,266.81 713.00,265.98 714.00,265.92 715.00,266.25 716.00,266.14 717.00,265.66 718.00,266.32 719.00,265.11 720.00,265.80 721.00,265.78 722.00,265.80 722.80,265.90 723.00,266.02 724.00,265.24 725.00,265.96 726.00,265.52 727.00,265.22 728.00,264.81 729.00,264.80 730.00,265.40 731.00,264.71 732.00,265.08 733.00,265.44 734.00,265.33 735.00,265.48 736.00,264.55 737.00,264.10 738.00,264.50 738.00,264.96 739.00,264.43 740.00,264.58 741.00,263.87 742.00,264.19 743.00,263.82 744.00,263.55 745.00,263.24 746.00,262.80 746.00,262.98 747.00,262.70 748.00,262.49 749.00,262.63 750.00,261.75 751.00,262.56 752.00,261.52 753.00,261.81 753.80,261.20 754.00,261.13 755.00,260.90 756.00,261.77 757.00,260.56 758.00,259.96 759.00,260.06 760.00,260.08 761.00,261.04 762.00,260.00 763.00,260.17 764.00,259.14 764.60,259.50 765.00,259.39 766.00,258.85 767.00,258.68 767.70,257.40 768.00,256.79 769.00,256.37 770.00,255.24 771.00,253.64 772.00,253.09 773.00,251.98 773.90,251.20 774.00,250.01 775.00,249.88 776.00,248.41 777.00,246.52 777.50,246.00 778.00,244.40 779.00,243.67 780.00,241.12 780.50,240.00 781.00,238.46 782.00,234.63 782.40,232.40 783.00,229.98 784.00,226.94 784.90,223.30 785.00,222.78 786.00,218.72 787.00,214.58 787.10,214.20 788.00,208.35 788.50,205.10 789.00,202.45 790.00,195.69 790.10,195.00 791.00,183.53 791.00,183.60 791.90,172.70 792.00,171.59 793.00,162.04 793.10,160.90 794.00,149.60 794.00,150.00 794.80,140.00 795.00,137.77 796.00,127.98 797.00,117.75 797.00,118.00 798.00,103.95 799.00,89.73 800.00,76.00 800.00,76.90 801.00,67.03 802.00,57.06 803.00,47.26 803.50,42.50 804.00,47.67 805.00,55.21 806.00,63.40 807.00,71.95 807.50,76.00 808.00,82.14 809.00,94.63 810.00,105.99 811.00,118.00 811.00,118.94 812.00,132.27 812.50,140.00 813.00,148.65 813.10,150.00 814.00,160.45 814.00,160.90 814.90,172.70 815.00,174.51 816.00,183.45 816.00,183.60 816.90,194.00 817.00,194.77 818.00,203.14 818.30,205.10 819.00,209.91 819.80,214.20 820.00,214.57 821.00,219.24 821.90,223.30 822.00,223.11 823.00,228.13 824.00,232.35 824.00,232.40 825.00,235.91 825.80,239.00 826.00,239.07 827.00,241.08 828.00,242.79 829.00,245.00 829.00,245.24 830.00,247.36 831.00,247.49 831.50,249.20 832.00,249.53 833.00,250.14 834.00,251.31 835.00,251.41 836.00,252.53 836.80,253.20 837.00,253.01 838.00,255.20 839.00,256.34 840.00,257.62 840.50,258.40 841.00,258.92 842.00,259.36 843.00,259.49 844.00,260.90 844.00,261.17 845.00,261.14 846.00,261.06 847.00,261.69 848.00,261.90 849.00,260.98 850.00,261.23 851.00,262.39 852.00,262.45 853.00,261.59 854.00,261.51 855.00,261.87 855.40,262.20 856.00,262.07 857.00,261.73 858.00,262.61 859.00,262.17 860.00,262.35 861.00,263.46 862.00,262.89 863.00,263.31 864.00,263.78 865.00,264.01 866.00,263.65 867.00,263.97 868.00,263.73 868.00,264.10 869.00,264.95 870.00,264.53 871.00,263.81 872.00,264.38 873.00,264.76 874.00,264.73 875.00,265.40 876.00,265.26 877.00,264.47 878.00,264.74 879.00,264.28 880.00,265.03 881.00,265.06 882.00,266.27 883.00,265.17 884.00,264.25 885.00,264.96 886.00,265.38 887.00,264.83 887.00,265.40 888.00,265.07 889.00,265.36 890.00,265.74 891.00,265.58 892.00,265.32 893.00,266.13 894.00,265.60 895.00,265.68 896.00,265.35 897.00,265.68 898.00,266.39 899.00,265.43 900.00,266.19 901.00,266.61 902.00,266.18 903.00,266.52 904.00,265.97 905.00,267.13 906.00,266.60 906.00,267.10 907.00,266.72 908.00,265.85 909.00,266.18 910.00,267.11 911.00,267.46 912.00,266.84 913.00,267.29 914.00,266.47 915.00,266.68 916.00,266.78 917.00,266.99 918.00,266.13 919.00,267.26 920.00,267.45 921.00,266.36 922.00,266.28 923.00,267.07 924.00,266.64 925.00,265.88 926.00,267.33 927.00,267.06 928.00,266.79 929.00,267.97 930.00,267.10 931.00,266.72 932.00,267.12 933.00,266.63 934.00,266.77 935.00,267.31 936.00,266.90 937.00,266.97 938.00,267.94 939.00,267.59 940.00,267.59 941.00,267.48 942.00,267.48 943.00,267.94 944.00,267.29 944.00,267.30 945.00,268.11 946.00,266.82 947.00,267.10 948.00,266.57 949.00,267.01 950.00,267.37 951.00,267.76 952.00,266.78 953.00,267.06 954.00,266.86 955.00,266.67 956.00,266.44 957.00,266.97 958.00,266.14 959.00,266.94 960.00,266.87 961.00,266.54 962.00,266.35 963.00,266.16 964.00,267.59 965.00,266.12 966.00,267.40 967.00,266.94 968.00,266.48 969.00,266.09 969.50,266.60 970.00,267.07 971.00,267.39 972.00,266.20 973.00,266.50 974.00,267.12 975.00,266.80 976.00,267.56 977.00,266.42 978.00,266.93 979.00,266.13 980.00,267.65 981.00,266.38 982.00,265.73 983.00,266.68 984.00,266.68 985.00,267.61 986.00,266.61 987.00,266.77 988.00,267.05 989.00,267.50 990.00,266.77 990.00,266.80 991.00,267.27 992.00,267.03 993.00,266.67 994.00,266.83 995.00,266.81 996.00,266.39 997.00,267.35 998.00,266.18 999.00,267.33 1000.00,267.23 1001.00,266.76 1002.00,266.46 1003.00,266.70 1004.00,267.01 1005.00,267.13 1006.00,266.93 1007.00,267.25 1008.00,266.55 1009.00,266.91 1010.00,266.09 1011.00,267.14 1012.00,266.87 1013.00,266.61 1014.00,267.32 1015.00,267.11 1016.00,265.53 1017.00,266.82 1018.00,266.15 1019.00,267.28 1020.00,267.92 1021.00,266.57 1022.00,266.83 1023.00,266.69 1024.00,266.96 1025.00,267.09 1026.00,267.38 1027.00,266.36 1028.00,266.80 1028.00,267.51 1029.00,266.37 1030.00,266.89 1031.00,267.27 1032.00,267.06 1033.00,266.30 1034.00,266.39 1035.00,266.48 1036.00,266.65 1037.00,267.17 1038.00,266.06 1039.00,266.84 1040.00,266.89 1041.00,266.85 1042.00,266.79 1043.00,267.25 1044.00,266.77 1045.00,266.92 1046.00,266.77 1047.00,267.31 1048.00,265.63 1049.00,267.05 1050.00,266.34 1051.00,266.31 1052.00,265.98 1053.00,265.56 1054.00,266.22 1055.00,266.06 1056.00,266.58 1057.00,265.68 1058.00,266.97 1059.00,266.43 1060.00,266.18 1061.00,265.96 1062.00,265.91 1063.00,265.74 1064.00,265.99 1065.00,266.22 1066.00,266.12 1066.00,266.20 1067.00,265.53 1068.00,266.02 1069.00,265.70 1070.00,266.15 1071.00,266.88 1072.00,266.29 1073.00,265.84 1074.00,265.22 1075.00,265.28 1076.00,265.13 1077.00,266.18 1078.00,265.48 1079.00,265.82 1080.00,265.48 1081.00,265.77 1082.00,266.33 1083.00,265.35 1084.00,265.48 1085.00,265.24 1086.00,265.96 1087.00,265.08 1088.00,265.00 1089.00,264.85 1090.00,264.81 1091.00,265.62 1092.00,266.54 1093.00,264.90 1094.00,265.74 1095.00,265.40 1096.00,264.76 1097.00,265.10 1098.00,265.08 1099.00,264.85 1100.00,266.00 1101.00,264.24 1102.00,265.23 1103.00,265.18 1104.00,264.74 1104.00,265.00 1105.00,265.03 1106.00,265.32 1107.00,264.96 1108.00,265.04 1109.00,265.13 1110.00,263.86 1111.00,265.41 1112.00,265.73 1113.00,265.11 1114.00,265.09 1115.00,263.96 1116.00,264.50 1117.00,264.16 1118.00,264.22 1119.00,264.88 1120.00,264.05 1121.00,264.32 1122.00,263.48 1123.00,264.23 1123.00,264.30 1124.00,263.92 1125.00,263.14 1126.00,262.71 1127.00,263.46 1128.00,261.64 1129.00,261.29 1130.00,260.98 1131.00,261.46 1132.00,260.50 1132.00,261.45 1133.00,260.40 1134.00,259.68 1135.00,259.56 1136.00,259.98 1137.00,258.84 1138.00,259.65 1139.00,259.39 1139.60,258.60 1140.00,258.38 1141.00,258.01 1142.00,257.43 1143.00,257.17 1144.00,255.37 1144.70,255.40 1145.00,255.52 1146.00,253.45 1147.00,251.90 1147.40,251.70 1148.00,251.14 1149.00,249.98 1150.00,248.62 1151.00,247.33 1152.00,246.61 1153.00,246.68 1154.00,245.89 1154.80,244.20 1155.00,243.83 1156.00,240.76 1157.00,236.68 1158.00,233.57 1159.00,230.42 1159.30,229.30 1160.00,226.28 1161.00,222.70 1162.00,219.58 1162.70,217.00 1163.00,215.27 1164.00,209.67 1165.00,205.05 1166.00,199.48 1166.00,199.60 1167.00,189.82 1168.00,179.12 1168.50,174.00 1169.00,168.98 1170.00,159.39 1171.00,149.48 1172.00,139.48 1173.00,129.82 1173.00,130.00 1174.00,121.96 1175.00,113.54 1176.00,105.45 1177.00,95.74 1177.00,96.50 1178.00,104.70 1179.00,113.06 1180.00,121.70 1181.00,129.80 1181.00,130.00 1182.00,142.34 1183.00,155.50 1184.00,167.79 1184.50,174.00 1185.00,178.60 1186.00,189.96 1187.00,199.60 1187.00,200.05 1188.00,207.37 1189.00,216.03 1190.00,223.35 1190.70,229.30 1191.00,230.41 1192.00,231.80 1193.00,233.54 1193.20,234.30 1194.00,235.73 1195.00,237.56 1196.00,239.99 1197.00,241.98 1198.00,243.92 1199.00,245.65 1199.40,246.70 1200.00,245.65 1201.00,248.34 1202.00,248.45 1203.00,250.41 1204.00,251.81 1205.00,252.42 1206.00,253.12 1207.00,254.22 1208.00,255.24 1209.00,256.05 1209.30,256.60 1210.00,256.51 1211.00,256.61 1212.00,257.81 1213.00,257.52 1214.00,258.21 1215.00,257.91 1216.00,258.31 1217.00,258.45 1218.00,258.98 1219.00,259.40 1219.30,259.10 1220.00,259.38 1221.00,259.22 1222.00,259.42 1223.00,260.77 1224.00,260.15 1225.00,260.39 1226.00,261.43 1227.00,261.51 1228.00,261.52 1229.00,261.35 1230.00,262.83 1231.00,262.20 1232.00,262.52 1233.00,262.45 1234.00,262.14 1234.10,262.80 1235.00,262.36 1236.00,263.33 1237.00,263.50 1238.00,263.40 1239.00,263.16 1240.00,263.22 1241.00,263.91 1242.00,263.58 1243.00,264.82 1244.00,264.60 1244.00,265.12"/>
<line x1="803.5" y1="16" x2="803.5" y2="406" stroke="#000" stroke-width="3" stroke-dasharray="8.7 2.594"/>
<line x1="1177.5" y1="16" x2="1177.5" y2="406" stroke="#000" stroke-width="3" stroke-dasharray="8.7 2.594"/>
</g>
<defs><clipPath id="cl"><rect x="42" y="14" width="560" height="392"/></clipPath><clipPath id="cr"><rect x="684" y="14" width="560" height="392"/></clipPath></defs>
<rect x="41" y="13" width="562" height="394" fill="none" stroke="#000" stroke-width="2"/>
<rect x="683" y="13" width="562" height="394" fill="none" stroke="#000" stroke-width="2"/>
<rect x="40" y="406" width="2" height="9" fill="#000"/>
<text transform="translate(41.10,436) scale(0.9,1)" text-anchor="middle" font-family="Liberation Serif" font-size="22.5">25</text>
<rect x="91" y="407" width="3" height="8" fill="#000"/>
<text transform="translate(92.19,436) scale(0.9,1)" text-anchor="middle" font-family="Liberation Serif" font-size="22.5">30</text>
<rect x="142" y="407" width="3" height="8" fill="#000"/>
<text transform="translate(143.28,436) scale(0.9,1)" text-anchor="middle" font-family="Liberation Serif" font-size="22.5">35</text>
<rect x="193" y="407" width="3" height="8" fill="#000"/>
<text transform="translate(194.37,436) scale(0.9,1)" text-anchor="middle" font-family="Liberation Serif" font-size="22.5">40</text>
<rect x="244" y="407" width="3" height="8" fill="#000"/>
<text transform="translate(245.46,436) scale(0.9,1)" text-anchor="middle" font-family="Liberation Serif" font-size="22.5">45</text>
<rect x="295" y="407" width="3" height="8" fill="#000"/>
<text transform="translate(296.55,436) scale(0.98,1)" text-anchor="middle" font-family="Liberation Serif" font-size="22.5">50</text>
<rect x="346" y="407" width="3" height="8" fill="#000"/>
<text transform="translate(347.65,436) scale(0.98,1)" text-anchor="middle" font-family="Liberation Serif" font-size="22.5">55</text>
<rect x="397" y="407" width="3" height="8" fill="#000"/>
<text transform="translate(398.74,436) scale(0.9,1)" text-anchor="middle" font-family="Liberation Serif" font-size="22.5">60</text>
<rect x="448" y="407" width="3" height="8" fill="#000"/>
<text transform="translate(449.83,436) scale(0.9,1)" text-anchor="middle" font-family="Liberation Serif" font-size="22.5">65</text>
<rect x="499" y="407" width="3" height="8" fill="#000"/>
<text transform="translate(500.92,436) scale(0.9,1)" text-anchor="middle" font-family="Liberation Serif" font-size="22.5">70</text>
<rect x="550" y="407" width="3" height="8" fill="#000"/>
<text transform="translate(552.01,436) scale(0.9,1)" text-anchor="middle" font-family="Liberation Serif" font-size="22.5">75</text>
<rect x="602" y="406" width="2" height="9" fill="#000"/>
<text transform="translate(603.10,436) scale(0.98,1)" text-anchor="middle" font-family="Liberation Serif" font-size="22.5">80</text>
<rect x="682" y="406" width="2" height="9" fill="#000"/>
<text transform="translate(682.40,436) scale(0.9,1)" text-anchor="middle" font-family="Liberation Serif" font-size="22.5">31</text>
<rect x="822" y="407" width="3" height="8" fill="#000"/>
<text transform="translate(822.90,436) scale(0.9,1)" text-anchor="middle" font-family="Liberation Serif" font-size="22.5">32</text>
<rect x="963" y="407" width="3" height="8" fill="#000"/>
<text transform="translate(963.40,436) scale(0.9,1)" text-anchor="middle" font-family="Liberation Serif" font-size="22.5">33</text>
<rect x="1103" y="407" width="3" height="8" fill="#000"/>
<text transform="translate(1103.90,436) scale(0.9,1)" text-anchor="middle" font-family="Liberation Serif" font-size="22.5">34</text>
<rect x="1244" y="406" width="2" height="9" fill="#000"/>
<text transform="translate(1244.40,436) scale(0.9,1)" text-anchor="middle" font-family="Liberation Serif" font-size="22.5">35</text>
<text transform="translate(261.42,471.01) scale(1.0244,0.9897)" font-family="Liberation Serif" font-size="26.6" fill="#000" xml:space="preserve">2θ (degrees)</text>
<text transform="translate(903.32,469.16) scale(1.0244,0.9979)" font-family="Liberation Serif" font-size="26.6" fill="#000" xml:space="preserve">2θ (degrees)</text>
<text transform="translate(28.33,313.93) scale(1.0042,1.0325) rotate(-90)" font-family="Liberation Serif" font-size="26.6" fill="#000" xml:space="preserve">Intensity (Count)</text>
<text transform="translate(667.15,303.93) scale(1.0000,1.0258) rotate(-90)" font-family="Liberation Serif" font-size="26.6" fill="#000" xml:space="preserve">Intensity (Count)</text>
<text transform="translate(54.74,40.88) scale(0.9580,1.0038)" font-family="Liberation Serif" font-size="29" fill="#000" xml:space="preserve">a)</text>
<text transform="translate(693.80,39.46) scale(1.0588,0.9897)" font-family="Liberation Serif" font-size="27" fill="#000" xml:space="preserve">b)</text>
<text transform="translate(116.58,102.86) scale(1.0462,1.0187) rotate(-90)" font-family="Liberation Serif" font-size="18" fill="#000" xml:space="preserve">(100)</text>
<text transform="translate(143.88,122.56) scale(1.0462,1.0187) rotate(-90)" font-family="Liberation Serif" font-size="18" fill="#000" xml:space="preserve">(002)</text>
<text transform="translate(177.98,64.26) scale(1.0462,1.0187) rotate(-90)" font-family="Liberation Serif" font-size="18" fill="#000" xml:space="preserve">(101)</text>
<text transform="translate(279.28,157.66) scale(1.0462,1.0187) rotate(-90)" font-family="Liberation Serif" font-size="18" fill="#000" xml:space="preserve">(102)</text>
<text transform="translate(370.03,142.78) scale(1.0462,1.0395) rotate(-90)" font-family="Liberation Serif" font-size="18" fill="#000" xml:space="preserve">(110)</text>
<text transform="translate(434.08,146.76) scale(1.0462,1.0187) rotate(-90)" font-family="Liberation Serif" font-size="18" fill="#000" xml:space="preserve">(103)</text>
<text transform="translate(464.98,179.36) scale(1.0462,1.0187) rotate(-90)" font-family="Liberation Serif" font-size="18" fill="#000" xml:space="preserve">(200)</text>
<text transform="translate(485.98,151.18) scale(1.0462,1.0395) rotate(-90)" font-family="Liberation Serif" font-size="18" fill="#000" xml:space="preserve">(112)</text>
<text transform="translate(505.08,170.56) scale(1.0462,1.0187) rotate(-90)" font-family="Liberation Serif" font-size="18" fill="#000" xml:space="preserve">(201)</text>
<text transform="translate(534.18,181.66) scale(1.0462,1.0187) rotate(-90)" font-family="Liberation Serif" font-size="18" fill="#000" xml:space="preserve">(004)</text>
<text transform="translate(578.88,181.66) scale(1.0462,1.0187) rotate(-90)" font-family="Liberation Serif" font-size="18" fill="#000" xml:space="preserve">(202)</text>
<text transform="translate(186.58,182.84) scale(1.0339,1.0328)" font-family="Liberation Serif" font-size="25" font-weight="bold" fill="#000080" xml:space="preserve">NZ0</text>
<text transform="translate(186.59,274.20) scale(1.0132,1.0667)" font-family="Liberation Serif" font-size="25" font-weight="bold" fill="#FF0000" xml:space="preserve">NZ1</text>
<text transform="translate(186.59,344.13) scale(1.0283,1.0627)" font-family="Liberation Serif" font-size="25" font-weight="bold" fill="#BE005C" xml:space="preserve">NZ3</text>
<text transform="translate(189.02,390.74) scale(0.9844,1.0305)" font-family="Liberation Serif" font-size="22" font-weight="bold" fill="#36A000" xml:space="preserve">CASHEW  GUM</text>
<text transform="translate(963.49,255.64) scale(1.0273,1.0328)" font-family="Liberation Serif" font-size="25" font-weight="bold" fill="#000080" xml:space="preserve">NZ0</text>
<text transform="translate(963.49,326.10) scale(1.0132,1.0485)" font-family="Liberation Serif" font-size="25" font-weight="bold" fill="#FF0000" xml:space="preserve">NZ1</text>
<text transform="translate(963.49,376.84) scale(1.0217,1.0507)" font-family="Liberation Serif" font-size="25" font-weight="bold" fill="#BE005C" xml:space="preserve">NZ3</text>
<text transform="translate(833.21,62.92) scale(1.0357,0.9962)" font-family="Liberation Serif" font-size="29" fill="#000" xml:space="preserve">(100)</text>
<text transform="translate(1088.59,114.98) scale(1.0506,1.0038)" font-family="Liberation Serif" font-size="29" fill="#000" xml:space="preserve">(002)</text>
<line x1="861.3" y1="74.5" x2="839.26" y2="105.38" stroke="#000" stroke-width="3.6"/><polygon points="828.4,120.6 835.74,100.41 845.11,107.09" fill="#000"/>
<line x1="1121.5" y1="125.5" x2="1142.06" y2="155.22" stroke="#000" stroke-width="3.6"/><polygon points="1152.7,170.6 1136.19,156.85 1145.65,150.31" fill="#000"/>
</g>
</svg>
</body></html>
